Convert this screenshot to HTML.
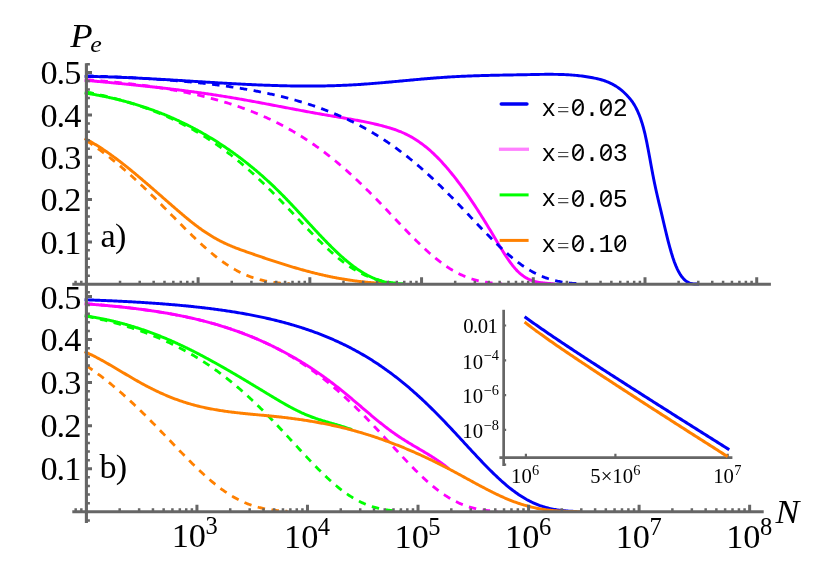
<!DOCTYPE html>
<html><head><meta charset="utf-8"><title>Pe vs N</title>
<style>html,body{margin:0;padding:0;background:#fff;}body{width:830px;height:586px;overflow:hidden;font-family:"Liberation Serif",serif;}svg{display:block;will-change:transform;}</style>
</head><body>
<svg width="830" height="586" viewBox="0 0 830 586">
<rect width="830" height="586" fill="#ffffff"/>
<g fill="none" stroke-linejoin="round">
<path d="M84.60,138.41 L85.39,138.82 L86.17,139.23 L86.96,139.65 L87.74,140.08 L88.53,140.51 L89.31,140.94 L90.10,141.38 L90.88,141.83 L91.67,142.28 L92.45,142.74 L93.24,143.20 L94.03,143.66 L94.81,144.14 L95.60,144.61 L96.38,145.09 L97.17,145.58 L97.95,146.07 L98.74,146.57 L99.52,147.07 L100.31,147.57 L101.09,148.08 L101.88,148.60 L102.67,149.11 L103.45,149.64 L104.24,150.16 L105.02,150.70 L105.81,151.23 L106.59,151.77 L107.38,152.31 L108.16,152.86 L108.95,153.41 L109.73,153.97 L110.52,154.53 L111.31,155.09 L112.09,155.66 L112.88,156.23 L113.66,156.81 L114.45,157.38 L115.23,157.97 L116.02,158.55 L116.80,159.14 L117.59,159.73 L118.37,160.33 L119.16,160.92 L119.95,161.53 L120.73,162.13 L121.52,162.74 L122.30,163.35 L123.09,163.96 L123.87,164.58 L124.66,165.20 L125.44,165.82 L126.23,166.44 L127.02,167.07 L127.80,167.70 L128.59,168.33 L129.37,168.97 L130.16,169.61 L130.94,170.25 L131.73,170.89 L132.51,171.53 L133.30,172.18 L134.08,172.83 L134.87,173.48 L135.66,174.13 L136.44,174.79 L137.23,175.44 L138.01,176.10 L138.80,176.76 L139.58,177.42 L140.37,178.09 L141.15,178.75 L141.94,179.42 L142.72,180.09 L143.51,180.76 L144.30,181.43 L145.08,182.10 L145.87,182.78 L146.65,183.45 L147.44,184.13 L148.22,184.80 L149.01,185.48 L149.79,186.16 L150.58,186.84 L151.36,187.52 L152.15,188.20 L152.94,188.89 L153.72,189.57 L154.51,190.25 L155.29,190.94 L156.08,191.62 L156.86,192.31 L157.65,193.00 L158.43,193.68 L159.22,194.37 L160.00,195.06 L160.79,195.74 L161.58,196.43 L162.36,197.12 L163.15,197.80 L163.93,198.49 L164.72,199.18 L165.50,199.86 L166.29,200.55 L167.07,201.24 L167.86,201.92 L168.64,202.61 L169.43,203.29 L170.22,203.98 L171.00,204.66 L171.79,205.35 L172.57,206.03 L173.36,206.71 L174.14,207.39 L174.93,208.07 L175.71,208.75 L176.50,209.43 L177.28,210.11 L178.07,210.78 L178.86,211.46 L179.64,212.13 L180.43,212.80 L181.21,213.47 L182.00,214.14 L182.78,214.81 L183.57,215.47 L184.35,216.13 L185.14,216.79 L185.92,217.44 L186.71,218.09 L187.50,218.74 L188.28,219.38 L189.07,220.02 L189.85,220.66 L190.64,221.29 L191.42,221.92 L192.21,222.55 L192.99,223.17 L193.78,223.78 L194.56,224.39 L195.35,225.00 L196.14,225.59 L196.92,226.19 L197.71,226.78 L198.49,227.36 L199.28,227.94 L200.06,228.51 L200.85,229.07 L201.63,229.63 L202.42,230.18 L203.21,230.72 L203.99,231.26 L204.78,231.79 L205.56,232.32 L206.35,232.84 L207.13,233.35 L207.92,233.86 L208.70,234.36 L209.49,234.85 L210.27,235.34 L211.06,235.82 L211.85,236.29 L212.63,236.76 L213.42,237.22 L214.20,237.68 L214.99,238.13 L215.77,238.57 L216.56,239.01 L217.34,239.44 L218.13,239.87 L218.91,240.29 L219.70,240.70 L220.49,241.11 L221.27,241.51 L222.06,241.90 L222.84,242.29 L223.63,242.67 L224.41,243.05 L225.20,243.42 L225.98,243.78 L226.77,244.14 L227.55,244.49 L228.34,244.84 L229.13,245.18 L229.91,245.52 L230.70,245.85 L231.48,246.18 L232.27,246.50 L233.05,246.82 L233.84,247.14 L234.62,247.45 L235.41,247.76 L236.19,248.06 L236.98,248.36 L237.77,248.66 L238.55,248.95 L239.34,249.25 L240.12,249.54 L240.91,249.82 L241.69,250.11 L242.48,250.39 L243.26,250.67 L244.05,250.95 L244.83,251.23 L245.62,251.51 L246.41,251.79 L247.19,252.06 L247.98,252.34 L248.76,252.61 L249.55,252.88 L250.33,253.16 L251.12,253.43 L251.90,253.70 L252.69,253.98 L253.47,254.25 L254.26,254.52 L255.05,254.79 L255.83,255.06 L256.62,255.33 L257.40,255.60 L258.19,255.87 L258.97,256.14 L259.76,256.41 L260.54,256.68 L261.33,256.95 L262.11,257.22 L262.90,257.48 L263.69,257.75 L264.47,258.01 L265.26,258.28 L266.04,258.54 L266.83,258.81 L267.61,259.07 L268.40,259.33 L269.18,259.60 L269.97,259.86 L270.75,260.12 L271.54,260.38 L272.33,260.64 L273.11,260.89 L273.90,261.15 L274.68,261.41 L275.47,261.66 L276.25,261.92 L277.04,262.17 L277.82,262.43 L278.61,262.68 L279.39,262.93 L280.18,263.18 L280.97,263.43 L281.75,263.68 L282.54,263.93 L283.32,264.18 L284.11,264.42 L284.89,264.67 L285.68,264.91 L286.46,265.15 L287.25,265.40 L288.04,265.64 L288.82,265.88 L289.61,266.12 L290.39,266.35 L291.18,266.59 L291.96,266.83 L292.75,267.06 L293.53,267.29 L294.32,267.53 L295.10,267.76 L295.89,267.99 L296.68,268.22 L297.46,268.44 L298.25,268.67 L299.03,268.90 L299.82,269.12 L300.60,269.34 L301.39,269.56 L302.17,269.78 L302.96,270.00 L303.74,270.22 L304.53,270.43 L305.32,270.65 L306.10,270.86 L306.89,271.07 L307.67,271.28 L308.46,271.49 L309.24,271.70 L310.03,271.91 L310.81,272.11 L311.60,272.31 L312.38,272.52 L313.17,272.72 L313.96,272.91 L314.74,273.11 L315.53,273.31 L316.31,273.50 L317.10,273.69 L317.88,273.88 L318.67,274.07 L319.45,274.26 L320.24,274.44 L321.02,274.63 L321.81,274.81 L322.60,274.99 L323.38,275.17 L324.17,275.35 L324.95,275.52 L325.74,275.70 L326.52,275.87 L327.31,276.04 L328.09,276.21 L328.88,276.37 L329.66,276.54 L330.45,276.70 L331.24,276.86 L332.02,277.02 L332.81,277.18 L333.59,277.33 L334.38,277.49 L335.16,277.64 L335.95,277.79 L336.73,277.94 L337.52,278.08 L338.30,278.23 L339.09,278.37 L339.88,278.51 L340.66,278.65 L341.45,278.79 L342.23,278.92 L343.02,279.06 L343.80,279.19 L344.59,279.32 L345.37,279.44 L346.16,279.57 L346.94,279.69 L347.73,279.82 L348.52,279.94 L349.30,280.06 L350.09,280.17 L350.87,280.29 L351.66,280.40 L352.44,280.51 L353.23,280.62 L354.01,280.73 L354.80,280.84 L355.58,280.94 L356.37,281.04 L357.16,281.14 L357.94,281.24 L358.73,281.34 L359.51,281.43 L360.30,281.53 L361.08,281.62 L361.87,281.71 L362.65,281.80 L363.44,281.88 L364.23,281.96 L365.01,282.05 L365.80,282.13 L366.58,282.21 L367.37,282.28 L368.15,282.36 L368.94,282.43 L369.72,282.50 L370.51,282.57 L371.29,282.64 L372.08,282.70 L372.87,282.77 L373.65,282.83 L374.44,282.89 L375.22,282.95 L376.01,283.00 L376.79,283.06 L377.58,283.11 L378.36,283.16 L379.15,283.21 L379.93,283.26 L380.72,283.30 L381.51,283.34 L382.29,283.39 L383.08,283.43 L383.86,283.46 L384.65,283.50 L385.43,283.53 L386.22,283.57 L387.00,283.60 L387.79,283.62 L388.57,283.65 L389.36,283.68 L390.15,283.70 L390.93,283.72 L391.72,283.74 L392.50,283.76 L393.29,283.77 L394.07,283.79 L394.86,283.80 L395.64,283.81 L396.43,283.82 L397.21,283.82 L398.00,283.83" stroke="#ff8000" stroke-width="2.95"/>
<path d="M84.60,92.91 L85.40,93.03 L86.19,93.16 L86.99,93.29 L87.78,93.41 L88.58,93.55 L89.37,93.68 L90.17,93.81 L90.96,93.95 L91.76,94.08 L92.55,94.22 L93.35,94.36 L94.15,94.51 L94.94,94.65 L95.74,94.79 L96.53,94.94 L97.33,95.09 L98.12,95.24 L98.92,95.39 L99.71,95.55 L100.51,95.70 L101.31,95.86 L102.10,96.02 L102.90,96.18 L103.69,96.34 L104.49,96.51 L105.28,96.67 L106.08,96.84 L106.87,97.01 L107.67,97.18 L108.46,97.35 L109.26,97.53 L110.06,97.71 L110.85,97.88 L111.65,98.06 L112.44,98.25 L113.24,98.43 L114.03,98.62 L114.83,98.80 L115.62,98.99 L116.42,99.19 L117.22,99.38 L118.01,99.57 L118.81,99.77 L119.60,99.97 L120.40,100.17 L121.19,100.38 L121.99,100.58 L122.78,100.79 L123.58,101.00 L124.37,101.21 L125.17,101.42 L125.97,101.64 L126.76,101.85 L127.56,102.07 L128.35,102.29 L129.15,102.52 L129.94,102.74 L130.74,102.97 L131.53,103.20 L132.33,103.43 L133.12,103.66 L133.92,103.90 L134.72,104.14 L135.51,104.38 L136.31,104.62 L137.10,104.86 L137.90,105.11 L138.69,105.36 L139.49,105.61 L140.28,105.86 L141.08,106.11 L141.88,106.37 L142.67,106.63 L143.47,106.89 L144.26,107.16 L145.06,107.42 L145.85,107.69 L146.65,107.96 L147.44,108.23 L148.24,108.51 L149.03,108.78 L149.83,109.06 L150.63,109.35 L151.42,109.63 L152.22,109.92 L153.01,110.20 L153.81,110.49 L154.60,110.79 L155.40,111.08 L156.19,111.38 L156.99,111.68 L157.78,111.98 L158.58,112.29 L159.38,112.60 L160.17,112.91 L160.97,113.22 L161.76,113.53 L162.56,113.85 L163.35,114.17 L164.15,114.49 L164.94,114.82 L165.74,115.14 L166.54,115.47 L167.33,115.80 L168.13,116.14 L168.92,116.47 L169.72,116.81 L170.51,117.16 L171.31,117.50 L172.10,117.85 L172.90,118.20 L173.69,118.55 L174.49,118.90 L175.29,119.26 L176.08,119.62 L176.88,119.98 L177.67,120.35 L178.47,120.71 L179.26,121.08 L180.06,121.46 L180.85,121.83 L181.65,122.21 L182.45,122.59 L183.24,122.97 L184.04,123.36 L184.83,123.75 L185.63,124.14 L186.42,124.53 L187.22,124.93 L188.01,125.33 L188.81,125.73 L189.60,126.13 L190.40,126.54 L191.20,126.95 L191.99,127.37 L192.79,127.78 L193.58,128.20 L194.38,128.62 L195.17,129.05 L195.97,129.47 L196.76,129.90 L197.56,130.33 L198.35,130.77 L199.15,131.21 L199.95,131.65 L200.74,132.09 L201.54,132.54 L202.33,132.99 L203.13,133.44 L203.92,133.90 L204.72,134.36 L205.51,134.82 L206.31,135.28 L207.11,135.75 L207.90,136.22 L208.70,136.69 L209.49,137.17 L210.29,137.65 L211.08,138.13 L211.88,138.61 L212.67,139.10 L213.47,139.59 L214.26,140.09 L215.06,140.58 L215.86,141.08 L216.65,141.59 L217.45,142.09 L218.24,142.60 L219.04,143.12 L219.83,143.63 L220.63,144.15 L221.42,144.67 L222.22,145.20 L223.02,145.72 L223.81,146.25 L224.61,146.79 L225.40,147.33 L226.20,147.87 L226.99,148.41 L227.79,148.96 L228.58,149.51 L229.38,150.06 L230.17,150.62 L230.97,151.17 L231.77,151.74 L232.56,152.30 L233.36,152.87 L234.15,153.45 L234.95,154.02 L235.74,154.60 L236.54,155.18 L237.33,155.77 L238.13,156.36 L238.92,156.95 L239.72,157.55 L240.52,158.15 L241.31,158.75 L242.11,159.36 L242.90,159.97 L243.70,160.58 L244.49,161.20 L245.29,161.82 L246.08,162.45 L246.88,163.07 L247.68,163.71 L248.47,164.34 L249.27,164.98 L250.06,165.62 L250.86,166.27 L251.65,166.92 L252.45,167.57 L253.24,168.23 L254.04,168.89 L254.83,169.56 L255.63,170.22 L256.43,170.90 L257.22,171.57 L258.02,172.25 L258.81,172.93 L259.61,173.62 L260.40,174.31 L261.20,175.01 L261.99,175.71 L262.79,176.41 L263.58,177.12 L264.38,177.83 L265.18,178.54 L265.97,179.26 L266.77,179.98 L267.56,180.71 L268.36,181.44 L269.15,182.17 L269.95,182.91 L270.74,183.66 L271.54,184.40 L272.34,185.15 L273.13,185.91 L273.93,186.67 L274.72,187.43 L275.52,188.20 L276.31,188.97 L277.11,189.74 L277.90,190.52 L278.70,191.31 L279.49,192.10 L280.29,192.89 L281.09,193.69 L281.88,194.49 L282.68,195.29 L283.47,196.10 L284.27,196.91 L285.06,197.73 L285.86,198.55 L286.65,199.37 L287.45,200.19 L288.25,201.02 L289.04,201.86 L289.84,202.69 L290.63,203.53 L291.43,204.37 L292.22,205.21 L293.02,206.06 L293.81,206.90 L294.61,207.75 L295.40,208.60 L296.20,209.46 L297.00,210.31 L297.79,211.17 L298.59,212.02 L299.38,212.88 L300.18,213.74 L300.97,214.61 L301.77,215.47 L302.56,216.33 L303.36,217.20 L304.15,218.06 L304.95,218.93 L305.75,219.79 L306.54,220.66 L307.34,221.52 L308.13,222.39 L308.93,223.25 L309.72,224.12 L310.52,224.98 L311.31,225.85 L312.11,226.71 L312.91,227.57 L313.70,228.43 L314.50,229.29 L315.29,230.15 L316.09,231.00 L316.88,231.86 L317.68,232.71 L318.47,233.56 L319.27,234.40 L320.06,235.25 L320.86,236.09 L321.66,236.93 L322.45,237.76 L323.25,238.60 L324.04,239.43 L324.84,240.25 L325.63,241.07 L326.43,241.89 L327.22,242.71 L328.02,243.52 L328.82,244.32 L329.61,245.13 L330.41,245.92 L331.20,246.72 L332.00,247.50 L332.79,248.29 L333.59,249.06 L334.38,249.83 L335.18,250.60 L335.97,251.36 L336.77,252.12 L337.57,252.87 L338.36,253.61 L339.16,254.34 L339.95,255.07 L340.75,255.80 L341.54,256.51 L342.34,257.22 L343.13,257.93 L343.93,258.62 L344.72,259.31 L345.52,259.99 L346.32,260.66 L347.11,261.32 L347.91,261.98 L348.70,262.63 L349.50,263.27 L350.29,263.90 L351.09,264.52 L351.88,265.14 L352.68,265.74 L353.48,266.34 L354.27,266.92 L355.07,267.50 L355.86,268.07 L356.66,268.63 L357.45,269.17 L358.25,269.71 L359.04,270.24 L359.84,270.76 L360.63,271.27 L361.43,271.78 L362.23,272.27 L363.02,272.75 L363.82,273.22 L364.61,273.68 L365.41,274.13 L366.20,274.57 L367.00,275.01 L367.79,275.43 L368.59,275.84 L369.38,276.24 L370.18,276.63 L370.98,277.01 L371.77,277.38 L372.57,277.74 L373.36,278.09 L374.16,278.43 L374.95,278.76 L375.75,279.07 L376.54,279.38 L377.34,279.68 L378.14,279.96 L378.93,280.24 L379.73,280.50 L380.52,280.76 L381.32,281.00 L382.11,281.23 L382.91,281.46 L383.70,281.67 L384.50,281.87 L385.29,282.06 L386.09,282.24 L386.89,282.41 L387.68,282.57 L388.48,282.72 L389.27,282.86 L390.07,282.98 L390.86,283.10 L391.66,283.20 L392.45,283.30 L393.25,283.38 L394.05,283.46 L394.84,283.52 L395.64,283.57 L396.43,283.61 L397.23,283.64 L398.02,283.67 L398.82,283.67 L399.61,283.67 L400.41,283.66 L401.20,283.64 L402.00,283.60" stroke="#00ff00" stroke-width="2.95"/>
<path d="M84.60,80.23 L85.78,80.34 L86.96,80.44 L88.14,80.55 L89.32,80.66 L90.49,80.76 L91.67,80.87 L92.85,80.98 L94.03,81.09 L95.21,81.20 L96.39,81.30 L97.57,81.41 L98.75,81.52 L99.93,81.63 L101.11,81.74 L102.28,81.85 L103.46,81.96 L104.64,82.07 L105.82,82.18 L107.00,82.29 L108.18,82.40 L109.36,82.51 L110.54,82.62 L111.72,82.73 L112.89,82.85 L114.07,82.96 L115.25,83.07 L116.43,83.19 L117.61,83.30 L118.79,83.41 L119.97,83.53 L121.15,83.64 L122.33,83.76 L123.51,83.87 L124.68,83.99 L125.86,84.11 L127.04,84.22 L128.22,84.34 L129.40,84.46 L130.58,84.58 L131.76,84.70 L132.94,84.82 L134.12,84.94 L135.29,85.06 L136.47,85.18 L137.65,85.30 L138.83,85.42 L140.01,85.54 L141.19,85.67 L142.37,85.79 L143.55,85.92 L144.73,86.04 L145.91,86.17 L147.08,86.29 L148.26,86.42 L149.44,86.55 L150.62,86.68 L151.80,86.81 L152.98,86.94 L154.16,87.07 L155.34,87.20 L156.52,87.33 L157.69,87.46 L158.87,87.59 L160.05,87.73 L161.23,87.86 L162.41,88.00 L163.59,88.14 L164.77,88.27 L165.95,88.41 L167.13,88.55 L168.31,88.69 L169.48,88.83 L170.66,88.97 L171.84,89.11 L173.02,89.25 L174.20,89.40 L175.38,89.54 L176.56,89.69 L177.74,89.83 L178.92,89.98 L180.09,90.13 L181.27,90.28 L182.45,90.43 L183.63,90.58 L184.81,90.73 L185.99,90.88 L187.17,91.04 L188.35,91.19 L189.53,91.35 L190.71,91.51 L191.88,91.66 L193.06,91.82 L194.24,91.98 L195.42,92.14 L196.60,92.30 L197.78,92.47 L198.96,92.63 L200.14,92.80 L201.32,92.96 L202.49,93.13 L203.67,93.30 L204.85,93.47 L206.03,93.64 L207.21,93.81 L208.39,93.98 L209.57,94.16 L210.75,94.33 L211.93,94.51 L213.11,94.69 L214.28,94.86 L215.46,95.04 L216.64,95.23 L217.82,95.41 L219.00,95.59 L220.18,95.78 L221.36,95.96 L222.54,96.15 L223.72,96.34 L224.89,96.53 L226.07,96.72 L227.25,96.91 L228.43,97.11 L229.61,97.30 L230.79,97.50 L231.97,97.70 L233.15,97.89 L234.33,98.09 L235.51,98.30 L236.68,98.50 L237.86,98.70 L239.04,98.91 L240.22,99.11 L241.40,99.32 L242.58,99.53 L243.76,99.74 L244.94,99.95 L246.12,100.16 L247.29,100.37 L248.47,100.58 L249.65,100.80 L250.83,101.01 L252.01,101.23 L253.19,101.44 L254.37,101.66 L255.55,101.88 L256.73,102.10 L257.91,102.32 L259.08,102.54 L260.26,102.76 L261.44,102.98 L262.62,103.20 L263.80,103.42 L264.98,103.64 L266.16,103.86 L267.34,104.09 L268.52,104.31 L269.69,104.53 L270.87,104.76 L272.05,104.98 L273.23,105.21 L274.41,105.43 L275.59,105.66 L276.77,105.88 L277.95,106.11 L279.13,106.33 L280.31,106.56 L281.48,106.78 L282.66,107.01 L283.84,107.23 L285.02,107.46 L286.20,107.68 L287.38,107.91 L288.56,108.13 L289.74,108.36 L290.92,108.58 L292.09,108.80 L293.27,109.03 L294.45,109.25 L295.63,109.47 L296.81,109.70 L297.99,109.92 L299.17,110.14 L300.35,110.36 L301.53,110.58 L302.71,110.80 L303.88,111.02 L305.06,111.24 L306.24,111.46 L307.42,111.68 L308.60,111.90 L309.78,112.11 L310.96,112.33 L312.14,112.54 L313.32,112.76 L314.49,112.97 L315.67,113.19 L316.85,113.40 L318.03,113.61 L319.21,113.82 L320.39,114.03 L321.57,114.23 L322.75,114.44 L323.93,114.65 L325.11,114.85 L326.28,115.05 L327.46,115.26 L328.64,115.46 L329.82,115.66 L331.00,115.86 L332.18,116.05 L333.36,116.25 L334.54,116.45 L335.72,116.64 L336.89,116.84 L338.07,117.04 L339.25,117.23 L340.43,117.43 L341.61,117.63 L342.79,117.82 L343.97,118.02 L345.15,118.22 L346.33,118.42 L347.51,118.62 L348.68,118.83 L349.86,119.03 L351.04,119.24 L352.22,119.44 L353.40,119.65 L354.58,119.86 L355.76,120.08 L356.94,120.30 L358.12,120.51 L359.29,120.74 L360.47,120.96 L361.65,121.19 L362.83,121.42 L364.01,121.66 L365.19,121.89 L366.37,122.14 L367.55,122.38 L368.73,122.63 L369.91,122.88 L371.08,123.14 L372.26,123.41 L373.44,123.67 L374.62,123.95 L375.80,124.22 L376.98,124.51 L378.16,124.79 L379.34,125.09 L380.52,125.39 L381.69,125.69 L382.87,126.00 L384.05,126.32 L385.23,126.64 L386.41,126.97 L387.59,127.31 L388.77,127.65 L389.95,128.00 L391.13,128.36 L392.31,128.74 L393.48,129.12 L394.66,129.52 L395.84,129.93 L397.02,130.36 L398.20,130.80 L399.38,131.26 L400.56,131.74 L401.74,132.24 L402.92,132.75 L404.09,133.28 L405.27,133.84 L406.45,134.41 L407.63,135.01 L408.81,135.62 L409.99,136.25 L411.17,136.91 L412.35,137.59 L413.53,138.29 L414.71,139.01 L415.88,139.75 L417.06,140.51 L418.24,141.30 L419.42,142.11 L420.60,142.94 L421.78,143.80 L422.96,144.68 L424.14,145.58 L425.32,146.51 L426.49,147.46 L427.67,148.44 L428.85,149.44 L430.03,150.47 L431.21,151.52 L432.39,152.60 L433.57,153.70 L434.75,154.83 L435.93,155.98 L437.11,157.16 L438.28,158.35 L439.46,159.58 L440.64,160.82 L441.82,162.09 L443.00,163.38 L444.18,164.69 L445.36,166.02 L446.54,167.38 L447.72,168.76 L448.89,170.15 L450.07,171.57 L451.25,173.01 L452.43,174.47 L453.61,175.95 L454.79,177.45 L455.97,178.97 L457.15,180.50 L458.33,182.06 L459.51,183.63 L460.68,185.22 L461.86,186.83 L463.04,188.46 L464.22,190.11 L465.40,191.77 L466.58,193.45 L467.76,195.14 L468.94,196.86 L470.12,198.58 L471.29,200.33 L472.47,202.08 L473.65,203.86 L474.83,205.65 L476.01,207.45 L477.19,209.26 L478.37,211.10 L479.55,212.94 L480.73,214.80 L481.91,216.67 L483.08,218.55 L484.26,220.45 L485.44,222.36 L486.62,224.28 L487.80,226.21 L488.98,228.15 L490.16,230.10 L491.34,232.07 L492.52,234.04 L493.69,236.03 L494.87,238.02 L496.05,240.01 L497.23,242.00 L498.41,243.98 L499.59,245.95 L500.77,247.90 L501.95,249.83 L503.13,251.73 L504.31,253.60 L505.48,255.44 L506.66,257.23 L507.84,258.98 L509.02,260.69 L510.20,262.34 L511.38,263.93 L512.56,265.46 L513.74,266.92 L514.92,268.31 L516.09,269.62 L517.27,270.86 L518.45,272.01 L519.63,273.09 L520.81,274.10 L521.99,275.03 L523.17,275.90 L524.35,276.71 L525.53,277.45 L526.71,278.13 L527.88,278.75 L529.06,279.32 L530.24,279.84 L531.42,280.31 L532.60,280.73 L533.78,281.11 L534.96,281.45 L536.14,281.75 L537.32,282.02 L538.49,282.26 L539.67,282.47 L540.85,282.66 L542.03,282.82 L543.21,282.96 L544.39,283.09 L545.57,283.20 L546.75,283.31 L547.93,283.41 L549.11,283.50 L550.28,283.59 L551.46,283.68 L552.64,283.78 L553.82,283.89 L555.00,284.00" stroke="#ff00ff" stroke-width="2.95"/>
<path d="M84.60,76.39 L86.14,76.41 L87.68,76.43 L89.22,76.45 L90.76,76.47 L92.30,76.50 L93.84,76.53 L95.38,76.56 L96.92,76.59 L98.46,76.63 L100.00,76.66 L101.54,76.70 L103.08,76.74 L104.62,76.78 L106.16,76.83 L107.70,76.87 L109.24,76.92 L110.78,76.97 L112.32,77.02 L113.86,77.07 L115.40,77.13 L116.94,77.18 L118.48,77.24 L120.02,77.30 L121.56,77.36 L123.10,77.43 L124.64,77.49 L126.18,77.56 L127.72,77.62 L129.26,77.69 L130.80,77.76 L132.34,77.83 L133.88,77.90 L135.42,77.98 L136.95,78.05 L138.49,78.13 L140.03,78.20 L141.57,78.28 L143.11,78.36 L144.65,78.44 L146.19,78.52 L147.73,78.60 L149.27,78.69 L150.81,78.77 L152.35,78.86 L153.89,78.94 L155.43,79.03 L156.97,79.12 L158.51,79.20 L160.05,79.29 L161.59,79.38 L163.13,79.47 L164.67,79.56 L166.21,79.65 L167.75,79.75 L169.29,79.84 L170.83,79.93 L172.37,80.02 L173.91,80.12 L175.45,80.21 L176.99,80.31 L178.53,80.40 L180.07,80.50 L181.61,80.59 L183.15,80.69 L184.69,80.78 L186.23,80.88 L187.77,80.97 L189.31,81.07 L190.85,81.17 L192.39,81.26 L193.93,81.36 L195.47,81.45 L197.01,81.55 L198.55,81.65 L200.09,81.74 L201.63,81.84 L203.17,81.93 L204.71,82.03 L206.25,82.12 L207.79,82.22 L209.33,82.31 L210.87,82.40 L212.41,82.50 L213.95,82.59 L215.49,82.68 L217.03,82.77 L218.57,82.86 L220.11,82.96 L221.65,83.05 L223.19,83.13 L224.73,83.22 L226.27,83.31 L227.81,83.40 L229.35,83.48 L230.89,83.57 L232.43,83.65 L233.97,83.74 L235.51,83.82 L237.05,83.90 L238.58,83.98 L240.12,84.06 L241.66,84.14 L243.20,84.22 L244.74,84.30 L246.28,84.37 L247.82,84.45 L249.36,84.52 L250.90,84.59 L252.44,84.66 L253.98,84.73 L255.52,84.80 L257.06,84.87 L258.60,84.93 L260.14,84.99 L261.68,85.06 L263.22,85.12 L264.76,85.18 L266.30,85.23 L267.84,85.29 L269.38,85.34 L270.92,85.39 L272.46,85.45 L274.00,85.49 L275.54,85.54 L277.08,85.59 L278.62,85.63 L280.16,85.67 L281.70,85.71 L283.24,85.75 L284.78,85.79 L286.32,85.82 L287.86,85.85 L289.40,85.88 L290.94,85.91 L292.48,85.93 L294.02,85.96 L295.56,85.98 L297.10,86.00 L298.64,86.01 L300.18,86.03 L301.72,86.04 L303.26,86.05 L304.80,86.05 L306.34,86.06 L307.88,86.06 L309.42,86.06 L310.96,86.06 L312.50,86.05 L314.04,86.04 L315.58,86.03 L317.12,86.02 L318.66,86.00 L320.20,85.98 L321.74,85.96 L323.28,85.93 L324.82,85.91 L326.36,85.88 L327.90,85.84 L329.44,85.81 L330.98,85.77 L332.52,85.72 L334.06,85.68 L335.60,85.63 L337.14,85.58 L338.68,85.52 L340.22,85.47 L341.75,85.40 L343.29,85.34 L344.83,85.27 L346.37,85.20 L347.91,85.13 L349.45,85.05 L350.99,84.97 L352.53,84.88 L354.07,84.79 L355.61,84.70 L357.15,84.61 L358.69,84.51 L360.23,84.41 L361.77,84.31 L363.31,84.20 L364.85,84.09 L366.39,83.98 L367.93,83.86 L369.47,83.75 L371.01,83.63 L372.55,83.50 L374.09,83.38 L375.63,83.25 L377.17,83.13 L378.71,83.00 L380.25,82.87 L381.79,82.73 L383.33,82.60 L384.87,82.47 L386.41,82.33 L387.95,82.19 L389.49,82.05 L391.03,81.91 L392.57,81.77 L394.11,81.63 L395.65,81.49 L397.19,81.35 L398.73,81.21 L400.27,81.06 L401.81,80.92 L403.35,80.78 L404.89,80.63 L406.43,80.49 L407.97,80.35 L409.51,80.21 L411.05,80.06 L412.59,79.92 L414.13,79.78 L415.67,79.64 L417.21,79.50 L418.75,79.37 L420.29,79.23 L421.83,79.09 L423.37,78.96 L424.91,78.83 L426.45,78.70 L427.99,78.57 L429.53,78.44 L431.07,78.31 L432.61,78.19 L434.15,78.07 L435.69,77.95 L437.23,77.83 L438.77,77.71 L440.31,77.60 L441.85,77.49 L443.38,77.38 L444.92,77.28 L446.46,77.18 L448.00,77.08 L449.54,76.98 L451.08,76.89 L452.62,76.80 L454.16,76.71 L455.70,76.63 L457.24,76.55 L458.78,76.47 L460.32,76.40 L461.86,76.32 L463.40,76.25 L464.94,76.19 L466.48,76.12 L468.02,76.06 L469.56,76.00 L471.10,75.94 L472.64,75.88 L474.18,75.83 L475.72,75.78 L477.26,75.73 L478.80,75.68 L480.34,75.63 L481.88,75.58 L483.42,75.54 L484.96,75.50 L486.50,75.46 L488.04,75.42 L489.58,75.38 L491.12,75.34 L492.66,75.31 L494.20,75.27 L495.74,75.24 L497.28,75.21 L498.82,75.17 L500.36,75.14 L501.90,75.11 L503.44,75.08 L504.98,75.05 L506.52,75.02 L508.06,75.00 L509.60,74.97 L511.14,74.94 L512.68,74.91 L514.22,74.88 L515.76,74.86 L517.30,74.83 L518.84,74.80 L520.38,74.77 L521.92,74.74 L523.46,74.72 L525.00,74.69 L526.54,74.66 L528.08,74.63 L529.62,74.60 L531.16,74.56 L532.70,74.53 L534.24,74.50 L535.78,74.47 L537.32,74.45 L538.86,74.42 L540.40,74.40 L541.94,74.37 L543.48,74.36 L545.02,74.34 L546.55,74.33 L548.09,74.32 L549.63,74.32 L551.17,74.32 L552.71,74.33 L554.25,74.35 L555.79,74.37 L557.33,74.39 L558.87,74.43 L560.41,74.47 L561.95,74.52 L563.49,74.57 L565.03,74.64 L566.57,74.72 L568.11,74.80 L569.65,74.90 L571.19,75.00 L572.73,75.12 L574.27,75.24 L575.81,75.38 L577.35,75.53 L578.89,75.69 L580.43,75.87 L581.97,76.06 L583.51,76.26 L585.05,76.48 L586.59,76.71 L588.13,76.95 L589.67,77.22 L591.21,77.49 L592.75,77.78 L594.29,78.09 L595.83,78.42 L597.37,78.77 L598.91,79.14 L600.45,79.55 L601.99,79.98 L603.53,80.46 L605.07,80.98 L606.61,81.54 L608.15,82.16 L609.69,82.82 L611.23,83.55 L612.77,84.34 L614.31,85.20 L615.85,86.13 L617.39,87.14 L618.93,88.22 L620.47,89.39 L622.01,90.65 L623.55,92.00 L625.09,93.45 L626.63,94.99 L628.17,96.64 L629.71,98.41 L631.25,100.33 L632.79,102.47 L634.33,104.89 L635.87,107.62 L637.41,110.74 L638.95,114.29 L640.49,118.34 L642.03,122.95 L643.57,128.27 L645.11,134.45 L646.65,141.57 L648.18,149.45 L649.72,157.75 L651.26,166.16 L652.80,174.41 L654.34,182.24 L655.88,189.48 L657.42,196.28 L658.96,202.79 L660.50,209.20 L662.04,215.67 L663.58,222.23 L665.12,228.77 L666.66,235.17 L668.20,241.31 L669.74,247.10 L671.28,252.49 L672.82,257.44 L674.36,261.91 L675.90,265.88 L677.44,269.35 L678.98,272.35 L680.52,274.92 L682.06,277.08 L683.60,278.87 L685.14,280.34 L686.68,281.50 L688.22,282.39 L689.76,283.05 L691.30,283.51 L692.84,283.80 L694.38,283.96 L695.92,284.02 L697.46,284.01 L699.00,283.98" stroke="#0000f5" stroke-width="2.95"/>
<path d="M86.40,140.61 L87.36,141.24 L88.32,141.89 L89.28,142.53 L90.24,143.18 L91.19,143.84 L92.15,144.50 L93.11,145.17 L94.07,145.84 L95.03,146.52 L95.99,147.20 L96.95,147.89 L97.91,148.58 L98.87,149.28 L99.83,149.98 L100.78,150.68 L101.74,151.40 L102.70,152.11 L103.66,152.84 L104.62,153.56 L105.58,154.29 L106.54,155.03 L107.50,155.77 L108.46,156.52 L109.42,157.27 L110.37,158.03 L111.33,158.79 L112.29,159.56 L113.25,160.33 L114.21,161.11 L115.17,161.89 L116.13,162.68 L117.09,163.47 L118.05,164.27 L119.00,165.07 L119.96,165.88 L120.92,166.69 L121.88,167.51 L122.84,168.33 L123.80,169.15 L124.76,169.98 L125.72,170.82 L126.68,171.66 L127.64,172.50 L128.59,173.35 L129.55,174.21 L130.51,175.07 L131.47,175.93 L132.43,176.79 L133.39,177.67 L134.35,178.54 L135.31,179.42 L136.27,180.31 L137.23,181.19 L138.18,182.09 L139.14,182.98 L140.10,183.88 L141.06,184.79 L142.02,185.69 L142.98,186.60 L143.94,187.52 L144.90,188.44 L145.86,189.36 L146.82,190.28 L147.77,191.21 L148.73,192.14 L149.69,193.08 L150.65,194.02 L151.61,194.96 L152.57,195.90 L153.53,196.85 L154.49,197.79 L155.45,198.75 L156.40,199.70 L157.36,200.65 L158.32,201.61 L159.28,202.57 L160.24,203.53 L161.20,204.50 L162.16,205.46 L163.12,206.43 L164.08,207.39 L165.04,208.36 L165.99,209.33 L166.95,210.30 L167.91,211.27 L168.87,212.24 L169.83,213.22 L170.79,214.19 L171.75,215.16 L172.71,216.13 L173.67,217.10 L174.63,218.08 L175.58,219.05 L176.54,220.02 L177.50,220.98 L178.46,221.95 L179.42,222.92 L180.38,223.88 L181.34,224.85 L182.30,225.81 L183.26,226.77 L184.21,227.72 L185.17,228.68 L186.13,229.63 L187.09,230.57 L188.05,231.52 L189.01,232.46 L189.97,233.40 L190.93,234.33 L191.89,235.26 L192.85,236.19 L193.80,237.11 L194.76,238.03 L195.72,238.94 L196.68,239.85 L197.64,240.75 L198.60,241.64 L199.56,242.53 L200.52,243.42 L201.48,244.30 L202.44,245.17 L203.39,246.03 L204.35,246.89 L205.31,247.74 L206.27,248.59 L207.23,249.42 L208.19,250.25 L209.15,251.07 L210.11,251.88 L211.07,252.69 L212.03,253.49 L212.98,254.27 L213.94,255.05 L214.90,255.82 L215.86,256.58 L216.82,257.33 L217.78,258.07 L218.74,258.80 L219.70,259.53 L220.66,260.24 L221.61,260.94 L222.57,261.63 L223.53,262.31 L224.49,262.98 L225.45,263.64 L226.41,264.29 L227.37,264.92 L228.33,265.55 L229.29,266.16 L230.25,266.77 L231.20,267.36 L232.16,267.94 L233.12,268.51 L234.08,269.06 L235.04,269.61 L236.00,270.14 L236.96,270.67 L237.92,271.18 L238.88,271.67 L239.84,272.16 L240.79,272.64 L241.75,273.10 L242.71,273.55 L243.67,273.99 L244.63,274.42 L245.59,274.83 L246.55,275.24 L247.51,275.63 L248.47,276.01 L249.42,276.38 L250.38,276.74 L251.34,277.09 L252.30,277.42 L253.26,277.75 L254.22,278.06 L255.18,278.36 L256.14,278.66 L257.10,278.94 L258.06,279.21 L259.01,279.47 L259.97,279.73 L260.93,279.97 L261.89,280.20 L262.85,280.42 L263.81,280.64 L264.77,280.84 L265.73,281.04 L266.69,281.23 L267.65,281.41 L268.60,281.58 L269.56,281.74 L270.52,281.89 L271.48,282.04 L272.44,282.18 L273.40,282.31 L274.36,282.44 L275.32,282.56 L276.28,282.67 L277.24,282.78 L278.19,282.88 L279.15,282.98 L280.11,283.07 L281.07,283.15 L282.03,283.23 L282.99,283.30 L283.95,283.37 L284.91,283.44 L285.87,283.50 L286.82,283.56 L287.78,283.61 L288.74,283.66 L289.70,283.71" stroke="#ff8000" stroke-width="2.8000000000000003" stroke-dasharray="7.5 6.5"/>
<path d="M86.40,91.96 L87.36,92.15 L88.32,92.34 L89.28,92.54 L90.24,92.73 L91.19,92.93 L92.15,93.13 L93.11,93.34 L94.07,93.54 L95.03,93.75 L95.99,93.96 L96.95,94.17 L97.91,94.38 L98.87,94.60 L99.83,94.81 L100.78,95.03 L101.74,95.25 L102.70,95.48 L103.66,95.70 L104.62,95.93 L105.58,96.16 L106.54,96.39 L107.50,96.63 L108.46,96.87 L109.42,97.11 L110.37,97.35 L111.33,97.59 L112.29,97.84 L113.25,98.09 L114.21,98.34 L115.17,98.59 L116.13,98.85 L117.09,99.11 L118.05,99.37 L119.00,99.63 L119.96,99.90 L120.92,100.16 L121.88,100.44 L122.84,100.71 L123.80,100.99 L124.76,101.27 L125.72,101.55 L126.68,101.83 L127.64,102.12 L128.59,102.41 L129.55,102.70 L130.51,103.00 L131.47,103.30 L132.43,103.60 L133.39,103.90 L134.35,104.21 L135.31,104.52 L136.27,104.83 L137.23,105.15 L138.18,105.47 L139.14,105.79 L140.10,106.12 L141.06,106.44 L142.02,106.78 L142.98,107.11 L143.94,107.45 L144.90,107.79 L145.86,108.13 L146.82,108.48 L147.77,108.83 L148.73,109.19 L149.69,109.54 L150.65,109.90 L151.61,110.27 L152.57,110.64 L153.53,111.01 L154.49,111.38 L155.45,111.76 L156.40,112.14 L157.36,112.53 L158.32,112.92 L159.28,113.31 L160.24,113.71 L161.20,114.11 L162.16,114.51 L163.12,114.92 L164.08,115.33 L165.04,115.74 L165.99,116.16 L166.95,116.59 L167.91,117.01 L168.87,117.44 L169.83,117.88 L170.79,118.32 L171.75,118.76 L172.71,119.20 L173.67,119.66 L174.63,120.11 L175.58,120.57 L176.54,121.03 L177.50,121.50 L178.46,121.97 L179.42,122.45 L180.38,122.93 L181.34,123.41 L182.30,123.90 L183.26,124.39 L184.21,124.89 L185.17,125.39 L186.13,125.90 L187.09,126.41 L188.05,126.93 L189.01,127.45 L189.97,127.97 L190.93,128.50 L191.89,129.04 L192.85,129.57 L193.80,130.12 L194.76,130.67 L195.72,131.22 L196.68,131.78 L197.64,132.34 L198.60,132.91 L199.56,133.48 L200.52,134.06 L201.48,134.64 L202.44,135.23 L203.39,135.82 L204.35,136.42 L205.31,137.02 L206.27,137.63 L207.23,138.24 L208.19,138.86 L209.15,139.48 L210.11,140.11 L211.07,140.74 L212.03,141.38 L212.98,142.02 L213.94,142.67 L214.90,143.32 L215.86,143.98 L216.82,144.65 L217.78,145.32 L218.74,145.99 L219.70,146.67 L220.66,147.36 L221.61,148.05 L222.57,148.75 L223.53,149.45 L224.49,150.16 L225.45,150.87 L226.41,151.59 L227.37,152.31 L228.33,153.04 L229.29,153.77 L230.25,154.51 L231.20,155.26 L232.16,156.01 L233.12,156.77 L234.08,157.53 L235.04,158.30 L236.00,159.07 L236.96,159.85 L237.92,160.63 L238.88,161.42 L239.84,162.21 L240.79,163.01 L241.75,163.82 L242.71,164.63 L243.67,165.45 L244.63,166.27 L245.59,167.09 L246.55,167.93 L247.51,168.76 L248.47,169.61 L249.42,170.46 L250.38,171.31 L251.34,172.17 L252.30,173.03 L253.26,173.90 L254.22,174.77 L255.18,175.65 L256.14,176.54 L257.10,177.42 L258.06,178.32 L259.01,179.22 L259.97,180.12 L260.93,181.03 L261.89,181.94 L262.85,182.86 L263.81,183.78 L264.77,184.70 L265.73,185.63 L266.69,186.57 L267.65,187.51 L268.60,188.45 L269.56,189.40 L270.52,190.35 L271.48,191.31 L272.44,192.26 L273.40,193.23 L274.36,194.19 L275.32,195.16 L276.28,196.14 L277.24,197.11 L278.19,198.09 L279.15,199.07 L280.11,200.06 L281.07,201.05 L282.03,202.04 L282.99,203.03 L283.95,204.03 L284.91,205.03 L285.87,206.03 L286.82,207.03 L287.78,208.03 L288.74,209.04 L289.70,210.04 L290.66,211.05 L291.62,212.06 L292.58,213.07 L293.54,214.08 L294.50,215.09 L295.46,216.10 L296.41,217.12 L297.37,218.13 L298.33,219.14 L299.29,220.15 L300.25,221.16 L301.21,222.17 L302.17,223.18 L303.13,224.19 L304.09,225.19 L305.05,226.20 L306.00,227.20 L306.96,228.20 L307.92,229.20 L308.88,230.19 L309.84,231.19 L310.80,232.18 L311.76,233.16 L312.72,234.14 L313.68,235.12 L314.63,236.10 L315.59,237.07 L316.55,238.03 L317.51,238.99 L318.47,239.95 L319.43,240.90 L320.39,241.84 L321.35,242.78 L322.31,243.71 L323.27,244.63 L324.22,245.55 L325.18,246.46 L326.14,247.37 L327.10,248.26 L328.06,249.15 L329.02,250.03 L329.98,250.91 L330.94,251.77 L331.90,252.62 L332.86,253.47 L333.81,254.31 L334.77,255.13 L335.73,255.95 L336.69,256.76 L337.65,257.56 L338.61,258.34 L339.57,259.12 L340.53,259.88 L341.49,260.64 L342.44,261.38 L343.40,262.11 L344.36,262.83 L345.32,263.53 L346.28,264.23 L347.24,264.91 L348.20,265.58 L349.16,266.24 L350.12,266.89 L351.08,267.52 L352.03,268.14 L352.99,268.74 L353.95,269.34 L354.91,269.92 L355.87,270.48 L356.83,271.04 L357.79,271.58 L358.75,272.10 L359.71,272.62 L360.67,273.12 L361.62,273.60 L362.58,274.08 L363.54,274.54 L364.50,274.98 L365.46,275.41 L366.42,275.83 L367.38,276.24 L368.34,276.63 L369.30,277.01 L370.26,277.38 L371.21,277.73 L372.17,278.08 L373.13,278.41 L374.09,278.72 L375.05,279.03 L376.01,279.32 L376.97,279.60 L377.93,279.87 L378.89,280.13 L379.84,280.37 L380.80,280.61 L381.76,280.84 L382.72,281.05 L383.68,281.25 L384.64,281.45 L385.60,281.63 L386.56,281.81 L387.52,281.98 L388.48,282.13 L389.43,282.28 L390.39,282.42 L391.35,282.55 L392.31,282.68 L393.27,282.80 L394.23,282.91 L395.19,283.01 L396.15,283.11 L397.11,283.20 L398.07,283.28 L399.02,283.36 L399.98,283.43 L400.94,283.50 L401.90,283.56 L402.86,283.62 L403.82,283.68 L404.78,283.73" stroke="#00ff00" stroke-width="2.8000000000000003" stroke-dasharray="7.5 6.5"/>
<path d="M86.40,79.73 L87.36,79.80 L88.32,79.87 L89.28,79.95 L90.24,80.02 L91.19,80.09 L92.15,80.17 L93.11,80.24 L94.07,80.32 L95.03,80.40 L95.99,80.47 L96.95,80.55 L97.91,80.63 L98.87,80.71 L99.83,80.79 L100.78,80.87 L101.74,80.95 L102.70,81.04 L103.66,81.12 L104.62,81.20 L105.58,81.29 L106.54,81.38 L107.50,81.46 L108.46,81.55 L109.42,81.64 L110.37,81.73 L111.33,81.82 L112.29,81.91 L113.25,82.00 L114.21,82.10 L115.17,82.19 L116.13,82.29 L117.09,82.38 L118.05,82.48 L119.00,82.58 L119.96,82.68 L120.92,82.78 L121.88,82.88 L122.84,82.98 L123.80,83.08 L124.76,83.19 L125.72,83.29 L126.68,83.40 L127.64,83.50 L128.59,83.61 L129.55,83.72 L130.51,83.83 L131.47,83.94 L132.43,84.06 L133.39,84.17 L134.35,84.28 L135.31,84.40 L136.27,84.52 L137.23,84.64 L138.18,84.75 L139.14,84.87 L140.10,85.00 L141.06,85.12 L142.02,85.24 L142.98,85.37 L143.94,85.50 L144.90,85.62 L145.86,85.75 L146.82,85.88 L147.77,86.01 L148.73,86.15 L149.69,86.28 L150.65,86.42 L151.61,86.55 L152.57,86.69 L153.53,86.83 L154.49,86.97 L155.45,87.12 L156.40,87.26 L157.36,87.40 L158.32,87.55 L159.28,87.70 L160.24,87.85 L161.20,88.00 L162.16,88.15 L163.12,88.31 L164.08,88.46 L165.04,88.62 L165.99,88.78 L166.95,88.94 L167.91,89.10 L168.87,89.26 L169.83,89.43 L170.79,89.59 L171.75,89.76 L172.71,89.93 L173.67,90.10 L174.63,90.28 L175.58,90.45 L176.54,90.63 L177.50,90.81 L178.46,90.99 L179.42,91.17 L180.38,91.35 L181.34,91.54 L182.30,91.73 L183.26,91.91 L184.21,92.11 L185.17,92.30 L186.13,92.49 L187.09,92.69 L188.05,92.89 L189.01,93.09 L189.97,93.29 L190.93,93.50 L191.89,93.70 L192.85,93.91 L193.80,94.12 L194.76,94.33 L195.72,94.55 L196.68,94.76 L197.64,94.98 L198.60,95.20 L199.56,95.43 L200.52,95.65 L201.48,95.88 L202.44,96.11 L203.39,96.34 L204.35,96.58 L205.31,96.81 L206.27,97.05 L207.23,97.29 L208.19,97.54 L209.15,97.78 L210.11,98.03 L211.07,98.28 L212.03,98.53 L212.98,98.79 L213.94,99.05 L214.90,99.31 L215.86,99.57 L216.82,99.84 L217.78,100.10 L218.74,100.37 L219.70,100.65 L220.66,100.92 L221.61,101.20 L222.57,101.48 L223.53,101.77 L224.49,102.05 L225.45,102.34 L226.41,102.64 L227.37,102.93 L228.33,103.23 L229.29,103.53 L230.25,103.83 L231.20,104.14 L232.16,104.45 L233.12,104.76 L234.08,105.08 L235.04,105.40 L236.00,105.72 L236.96,106.04 L237.92,106.37 L238.88,106.70 L239.84,107.04 L240.79,107.37 L241.75,107.71 L242.71,108.06 L243.67,108.40 L244.63,108.75 L245.59,109.11 L246.55,109.46 L247.51,109.82 L248.47,110.19 L249.42,110.55 L250.38,110.92 L251.34,111.30 L252.30,111.68 L253.26,112.06 L254.22,112.44 L255.18,112.83 L256.14,113.22 L257.10,113.62 L258.06,114.02 L259.01,114.42 L259.97,114.83 L260.93,115.24 L261.89,115.65 L262.85,116.07 L263.81,116.49 L264.77,116.92 L265.73,117.34 L266.69,117.78 L267.65,118.22 L268.60,118.66 L269.56,119.10 L270.52,119.55 L271.48,120.01 L272.44,120.47 L273.40,120.93 L274.36,121.39 L275.32,121.86 L276.28,122.34 L277.24,122.82 L278.19,123.30 L279.15,123.79 L280.11,124.28 L281.07,124.78 L282.03,125.28 L282.99,125.79 L283.95,126.30 L284.91,126.81 L285.87,127.33 L286.82,127.85 L287.78,128.38 L288.74,128.92 L289.70,129.45 L290.66,130.00 L291.62,130.54 L292.58,131.09 L293.54,131.65 L294.50,132.21 L295.46,132.78 L296.41,133.35 L297.37,133.93 L298.33,134.51 L299.29,135.09 L300.25,135.69 L301.21,136.28 L302.17,136.88 L303.13,137.49 L304.09,138.10 L305.05,138.72 L306.00,139.34 L306.96,139.96 L307.92,140.60 L308.88,141.23 L309.84,141.88 L310.80,142.52 L311.76,143.18 L312.72,143.83 L313.68,144.50 L314.63,145.17 L315.59,145.84 L316.55,146.52 L317.51,147.20 L318.47,147.89 L319.43,148.59 L320.39,149.29 L321.35,150.00 L322.31,150.71 L323.27,151.42 L324.22,152.15 L325.18,152.87 L326.14,153.61 L327.10,154.35 L328.06,155.09 L329.02,155.84 L329.98,156.60 L330.94,157.36 L331.90,158.12 L332.86,158.89 L333.81,159.67 L334.77,160.45 L335.73,161.24 L336.69,162.03 L337.65,162.83 L338.61,163.64 L339.57,164.45 L340.53,165.26 L341.49,166.08 L342.44,166.91 L343.40,167.74 L344.36,168.58 L345.32,169.42 L346.28,170.26 L347.24,171.12 L348.20,171.97 L349.16,172.84 L350.12,173.70 L351.08,174.58 L352.03,175.45 L352.99,176.34 L353.95,177.22 L354.91,178.12 L355.87,179.01 L356.83,179.91 L357.79,180.82 L358.75,181.73 L359.71,182.65 L360.67,183.57 L361.62,184.50 L362.58,185.42 L363.54,186.36 L364.50,187.30 L365.46,188.24 L366.42,189.19 L367.38,190.14 L368.34,191.09 L369.30,192.05 L370.26,193.01 L371.21,193.98 L372.17,194.94 L373.13,195.92 L374.09,196.89 L375.05,197.87 L376.01,198.85 L376.97,199.84 L377.93,200.83 L378.89,201.82 L379.84,202.81 L380.80,203.80 L381.76,204.80 L382.72,205.80 L383.68,206.80 L384.64,207.81 L385.60,208.81 L386.56,209.82 L387.52,210.82 L388.48,211.83 L389.43,212.84 L390.39,213.85 L391.35,214.87 L392.31,215.88 L393.27,216.89 L394.23,217.90 L395.19,218.91 L396.15,219.92 L397.11,220.93 L398.07,221.94 L399.02,222.95 L399.98,223.96 L400.94,224.97 L401.90,225.97 L402.86,226.98 L403.82,227.98 L404.78,228.97 L405.74,229.97 L406.70,230.96 L407.65,231.95 L408.61,232.94 L409.57,233.92 L410.53,234.90 L411.49,235.88 L412.45,236.85 L413.41,237.81 L414.37,238.77 L415.33,239.73 L416.29,240.68 L417.24,241.63 L418.20,242.57 L419.16,243.50 L420.12,244.43 L421.08,245.35 L422.04,246.26 L423.00,247.16 L423.96,248.06 L424.92,248.95 L425.88,249.84 L426.83,250.71 L427.79,251.58 L428.75,252.43 L429.71,253.28 L430.67,254.12 L431.63,254.95 L432.59,255.77 L433.55,256.58 L434.51,257.38 L435.47,258.17 L436.42,258.94 L437.38,259.71 L438.34,260.47 L439.30,261.21 L440.26,261.94 L441.22,262.67 L442.18,263.38 L443.14,264.07 L444.10,264.76 L445.05,265.43 L446.01,266.09 L446.97,266.74 L447.93,267.38 L448.89,268.00 L449.85,268.61 L450.81,269.20 L451.77,269.79 L452.73,270.36 L453.69,270.91 L454.64,271.46 L455.60,271.99 L456.56,272.50 L457.52,273.01 L458.48,273.49 L459.44,273.97 L460.40,274.43 L461.36,274.88 L462.32,275.32 L463.28,275.74 L464.23,276.15 L465.19,276.55 L466.15,276.93 L467.11,277.30 L468.07,277.66 L469.03,278.00 L469.99,278.33 L470.95,278.65 L471.91,278.96 L472.86,279.25 L473.82,279.54 L474.78,279.81 L475.74,280.07 L476.70,280.32 L477.66,280.56 L478.62,280.79 L479.58,281.00 L480.54,281.21 L481.50,281.41 L482.45,281.59 L483.41,281.77 L484.37,281.94 L485.33,282.10 L486.29,282.25 L487.25,282.39 L488.21,282.53 L489.17,282.65 L490.13,282.77 L491.09,282.88 L492.04,282.99 L493.00,283.09 L493.96,283.18 L494.92,283.26 L495.88,283.34 L496.84,283.42 L497.80,283.49 L498.76,283.55 L499.72,283.61 L500.68,283.66 L501.63,283.72" stroke="#ff00ff" stroke-width="2.8000000000000003" stroke-dasharray="7.5 6.5"/>
<path d="M86.40,75.82 L87.36,75.85 L88.32,75.88 L89.28,75.92 L90.24,75.95 L91.19,75.98 L92.15,76.01 L93.11,76.05 L94.07,76.08 L95.03,76.12 L95.99,76.15 L96.95,76.19 L97.91,76.22 L98.87,76.26 L99.83,76.30 L100.78,76.33 L101.74,76.37 L102.70,76.41 L103.66,76.44 L104.62,76.48 L105.58,76.52 L106.54,76.56 L107.50,76.60 L108.46,76.64 L109.42,76.68 L110.37,76.72 L111.33,76.76 L112.29,76.80 L113.25,76.84 L114.21,76.89 L115.17,76.93 L116.13,76.97 L117.09,77.02 L118.05,77.06 L119.00,77.10 L119.96,77.15 L120.92,77.19 L121.88,77.24 L122.84,77.28 L123.80,77.33 L124.76,77.38 L125.72,77.43 L126.68,77.47 L127.64,77.52 L128.59,77.57 L129.55,77.62 L130.51,77.67 L131.47,77.72 L132.43,77.77 L133.39,77.82 L134.35,77.87 L135.31,77.93 L136.27,77.98 L137.23,78.03 L138.18,78.09 L139.14,78.14 L140.10,78.20 L141.06,78.25 L142.02,78.31 L142.98,78.36 L143.94,78.42 L144.90,78.48 L145.86,78.54 L146.82,78.60 L147.77,78.66 L148.73,78.72 L149.69,78.78 L150.65,78.84 L151.61,78.90 L152.57,78.96 L153.53,79.03 L154.49,79.09 L155.45,79.15 L156.40,79.22 L157.36,79.29 L158.32,79.35 L159.28,79.42 L160.24,79.49 L161.20,79.56 L162.16,79.62 L163.12,79.69 L164.08,79.76 L165.04,79.84 L165.99,79.91 L166.95,79.98 L167.91,80.05 L168.87,80.13 L169.83,80.20 L170.79,80.28 L171.75,80.35 L172.71,80.43 L173.67,80.51 L174.63,80.59 L175.58,80.67 L176.54,80.75 L177.50,80.83 L178.46,80.91 L179.42,80.99 L180.38,81.07 L181.34,81.16 L182.30,81.24 L183.26,81.33 L184.21,81.42 L185.17,81.50 L186.13,81.59 L187.09,81.68 L188.05,81.77 L189.01,81.86 L189.97,81.95 L190.93,82.05 L191.89,82.14 L192.85,82.23 L193.80,82.33 L194.76,82.43 L195.72,82.52 L196.68,82.62 L197.64,82.72 L198.60,82.82 L199.56,82.92 L200.52,83.03 L201.48,83.13 L202.44,83.23 L203.39,83.34 L204.35,83.45 L205.31,83.55 L206.27,83.66 L207.23,83.77 L208.19,83.88 L209.15,83.99 L210.11,84.11 L211.07,84.22 L212.03,84.34 L212.98,84.45 L213.94,84.57 L214.90,84.69 L215.86,84.81 L216.82,84.93 L217.78,85.05 L218.74,85.18 L219.70,85.30 L220.66,85.43 L221.61,85.55 L222.57,85.68 L223.53,85.81 L224.49,85.94 L225.45,86.07 L226.41,86.21 L227.37,86.34 L228.33,86.48 L229.29,86.62 L230.25,86.76 L231.20,86.90 L232.16,87.04 L233.12,87.18 L234.08,87.32 L235.04,87.47 L236.00,87.62 L236.96,87.77 L237.92,87.92 L238.88,88.07 L239.84,88.22 L240.79,88.38 L241.75,88.53 L242.71,88.69 L243.67,88.85 L244.63,89.01 L245.59,89.17 L246.55,89.34 L247.51,89.50 L248.47,89.67 L249.42,89.84 L250.38,90.01 L251.34,90.18 L252.30,90.36 L253.26,90.53 L254.22,90.71 L255.18,90.89 L256.14,91.07 L257.10,91.25 L258.06,91.44 L259.01,91.62 L259.97,91.81 L260.93,92.00 L261.89,92.19 L262.85,92.39 L263.81,92.58 L264.77,92.78 L265.73,92.98 L266.69,93.18 L267.65,93.38 L268.60,93.59 L269.56,93.80 L270.52,94.01 L271.48,94.22 L272.44,94.43 L273.40,94.65 L274.36,94.86 L275.32,95.08 L276.28,95.31 L277.24,95.53 L278.19,95.76 L279.15,95.98 L280.11,96.22 L281.07,96.45 L282.03,96.68 L282.99,96.92 L283.95,97.16 L284.91,97.40 L285.87,97.65 L286.82,97.89 L287.78,98.14 L288.74,98.40 L289.70,98.65 L290.66,98.91 L291.62,99.17 L292.58,99.43 L293.54,99.69 L294.50,99.96 L295.46,100.23 L296.41,100.50 L297.37,100.77 L298.33,101.05 L299.29,101.33 L300.25,101.61 L301.21,101.90 L302.17,102.19 L303.13,102.48 L304.09,102.77 L305.05,103.07 L306.00,103.37 L306.96,103.67 L307.92,103.97 L308.88,104.28 L309.84,104.59 L310.80,104.91 L311.76,105.22 L312.72,105.54 L313.68,105.87 L314.63,106.19 L315.59,106.52 L316.55,106.85 L317.51,107.19 L318.47,107.53 L319.43,107.87 L320.39,108.21 L321.35,108.56 L322.31,108.91 L323.27,109.27 L324.22,109.63 L325.18,109.99 L326.14,110.35 L327.10,110.72 L328.06,111.09 L329.02,111.47 L329.98,111.85 L330.94,112.23 L331.90,112.62 L332.86,113.01 L333.81,113.40 L334.77,113.80 L335.73,114.20 L336.69,114.60 L337.65,115.01 L338.61,115.42 L339.57,115.84 L340.53,116.26 L341.49,116.68 L342.44,117.11 L343.40,117.54 L344.36,117.98 L345.32,118.42 L346.28,118.86 L347.24,119.31 L348.20,119.76 L349.16,120.21 L350.12,120.67 L351.08,121.14 L352.03,121.61 L352.99,122.08 L353.95,122.56 L354.91,123.04 L355.87,123.52 L356.83,124.01 L357.79,124.51 L358.75,125.01 L359.71,125.51 L360.67,126.02 L361.62,126.53 L362.58,127.05 L363.54,127.57 L364.50,128.09 L365.46,128.62 L366.42,129.16 L367.38,129.70 L368.34,130.24 L369.30,130.79 L370.26,131.35 L371.21,131.91 L372.17,132.47 L373.13,133.04 L374.09,133.61 L375.05,134.19 L376.01,134.77 L376.97,135.36 L377.93,135.96 L378.89,136.55 L379.84,137.16 L380.80,137.77 L381.76,138.38 L382.72,139.00 L383.68,139.62 L384.64,140.25 L385.60,140.88 L386.56,141.52 L387.52,142.17 L388.48,142.82 L389.43,143.47 L390.39,144.13 L391.35,144.80 L392.31,145.47 L393.27,146.15 L394.23,146.83 L395.19,147.52 L396.15,148.21 L397.11,148.91 L398.07,149.61 L399.02,150.32 L399.98,151.03 L400.94,151.75 L401.90,152.48 L402.86,153.21 L403.82,153.94 L404.78,154.68 L405.74,155.43 L406.70,156.18 L407.65,156.94 L408.61,157.70 L409.57,158.47 L410.53,159.25 L411.49,160.03 L412.45,160.81 L413.41,161.60 L414.37,162.40 L415.33,163.20 L416.29,164.00 L417.24,164.82 L418.20,165.63 L419.16,166.46 L420.12,167.28 L421.08,168.12 L422.04,168.96 L423.00,169.80 L423.96,170.65 L424.92,171.50 L425.88,172.36 L426.83,173.23 L427.79,174.10 L428.75,174.97 L429.71,175.85 L430.67,176.74 L431.63,177.63 L432.59,178.52 L433.55,179.42 L434.51,180.33 L435.47,181.24 L436.42,182.15 L437.38,183.07 L438.34,183.99 L439.30,184.92 L440.26,185.85 L441.22,186.78 L442.18,187.72 L443.14,188.67 L444.10,189.62 L445.05,190.57 L446.01,191.52 L446.97,192.48 L447.93,193.45 L448.89,194.41 L449.85,195.39 L450.81,196.36 L451.77,197.34 L452.73,198.32 L453.69,199.30 L454.64,200.29 L455.60,201.27 L456.56,202.27 L457.52,203.26 L458.48,204.26 L459.44,205.25 L460.40,206.25 L461.36,207.26 L462.32,208.26 L463.28,209.27 L464.23,210.27 L465.19,211.28 L466.15,212.29 L467.11,213.30 L468.07,214.31 L469.03,215.32 L469.99,216.34 L470.95,217.35 L471.91,218.36 L472.86,219.37 L473.82,220.38 L474.78,221.39 L475.74,222.40 L476.70,223.41 L477.66,224.42 L478.62,225.42 L479.58,226.43 L480.54,227.43 L481.50,228.43 L482.45,229.43 L483.41,230.42 L484.37,231.41 L485.33,232.40 L486.29,233.39 L487.25,234.37 L488.21,235.35 L489.17,236.32 L490.13,237.29 L491.09,238.25 L492.04,239.21 L493.00,240.16 L493.96,241.11 L494.92,242.05 L495.88,242.99 L496.84,243.92 L497.80,244.84 L498.76,245.76 L499.72,246.67 L500.68,247.57 L501.63,248.47 L502.59,249.36 L503.55,250.23 L504.51,251.10 L505.47,251.97 L506.43,252.82 L507.39,253.66 L508.35,254.50 L509.31,255.32 L510.26,256.14 L511.22,256.94 L512.18,257.74 L513.14,258.52 L514.10,259.29 L515.06,260.06 L516.02,260.81 L516.98,261.55 L517.94,262.27 L518.90,262.99 L519.85,263.69 L520.81,264.39 L521.77,265.07 L522.73,265.73 L523.69,266.39 L524.65,267.03 L525.61,267.66 L526.57,268.28 L527.53,268.88 L528.49,269.47 L529.44,270.05 L530.40,270.61 L531.36,271.16 L532.32,271.70 L533.28,272.22 L534.24,272.73 L535.20,273.23 L536.16,273.71 L537.12,274.18 L538.07,274.64 L539.03,275.08 L539.99,275.51 L540.95,275.93 L541.91,276.33 L542.87,276.72 L543.83,277.10 L544.79,277.46 L545.75,277.81 L546.71,278.15 L547.66,278.48 L548.62,278.79 L549.58,279.09 L550.54,279.38 L551.50,279.66 L552.46,279.93 L553.42,280.18 L554.38,280.43 L555.34,280.66 L556.30,280.89 L557.25,281.10 L558.21,281.30 L559.17,281.49 L560.13,281.67 L561.09,281.85 L562.05,282.01 L563.01,282.17 L563.97,282.31 L564.93,282.45 L565.88,282.58 L566.84,282.71 L567.80,282.82 L568.76,282.93 L569.72,283.03 L570.68,283.13 L571.64,283.22 L572.60,283.30 L573.56,283.38 L574.52,283.45 L575.47,283.52 L576.43,283.58 L577.39,283.64 L578.35,283.69 L579.31,283.74" stroke="#0000f5" stroke-width="2.8000000000000003" stroke-dasharray="7.5 6.5"/>
<path d="M86.40,303.76 L87.35,303.83 L88.30,303.90 L89.25,303.98 L90.20,304.05 L91.14,304.12 L92.09,304.20 L93.04,304.28 L93.99,304.35 L94.94,304.43 L95.89,304.51 L96.84,304.59 L97.79,304.67 L98.73,304.75 L99.68,304.83 L100.63,304.92 L101.58,305.00 L102.53,305.08 L103.48,305.17 L104.43,305.25 L105.38,305.34 L106.33,305.43 L107.27,305.52 L108.22,305.61 L109.17,305.70 L110.12,305.79 L111.07,305.88 L112.02,305.97 L112.97,306.07 L113.92,306.16 L114.87,306.26 L115.81,306.36 L116.76,306.45 L117.71,306.55 L118.66,306.65 L119.61,306.75 L120.56,306.85 L121.51,306.96 L122.46,307.06 L123.40,307.17 L124.35,307.27 L125.30,307.38 L126.25,307.49 L127.20,307.59 L128.15,307.71 L129.10,307.82 L130.05,307.93 L131.00,308.04 L131.94,308.16 L132.89,308.27 L133.84,308.39 L134.79,308.51 L135.74,308.63 L136.69,308.75 L137.64,308.87 L138.59,308.99 L139.54,309.11 L140.48,309.24 L141.43,309.36 L142.38,309.49 L143.33,309.62 L144.28,309.75 L145.23,309.88 L146.18,310.02 L147.13,310.15 L148.07,310.28 L149.02,310.42 L149.97,310.56 L150.92,310.70 L151.87,310.84 L152.82,310.98 L153.77,311.12 L154.72,311.27 L155.67,311.42 L156.61,311.56 L157.56,311.71 L158.51,311.86 L159.46,312.02 L160.41,312.17 L161.36,312.32 L162.31,312.48 L163.26,312.64 L164.20,312.80 L165.15,312.96 L166.10,313.12 L167.05,313.29 L168.00,313.45 L168.95,313.62 L169.90,313.79 L170.85,313.96 L171.80,314.14 L172.74,314.31 L173.69,314.49 L174.64,314.66 L175.59,314.84 L176.54,315.03 L177.49,315.21 L178.44,315.39 L179.39,315.58 L180.34,315.77 L181.28,315.96 L182.23,316.15 L183.18,316.35 L184.13,316.54 L185.08,316.74 L186.03,316.94 L186.98,317.14 L187.93,317.35 L188.87,317.55 L189.82,317.76 L190.77,317.97 L191.72,318.18 L192.67,318.40 L193.62,318.61 L194.57,318.83 L195.52,319.05 L196.47,319.27 L197.41,319.50 L198.36,319.73 L199.31,319.96 L200.26,320.19 L201.21,320.42 L202.16,320.66 L203.11,320.90 L204.06,321.14 L205.01,321.38 L205.95,321.62 L206.90,321.87 L207.85,322.12 L208.80,322.37 L209.75,322.63 L210.70,322.89 L211.65,323.15 L212.60,323.41 L213.54,323.67 L214.49,323.94 L215.44,324.21 L216.39,324.49 L217.34,324.76 L218.29,325.04 L219.24,325.32 L220.19,325.60 L221.14,325.89 L222.08,326.18 L223.03,326.47 L223.98,326.76 L224.93,327.06 L225.88,327.36 L226.83,327.67 L227.78,327.97 L228.73,328.28 L229.68,328.59 L230.62,328.91 L231.57,329.22 L232.52,329.55 L233.47,329.87 L234.42,330.20 L235.37,330.53 L236.32,330.86 L237.27,331.20 L238.21,331.54 L239.16,331.88 L240.11,332.23 L241.06,332.58 L242.01,332.93 L242.96,333.29 L243.91,333.64 L244.86,334.01 L245.81,334.37 L246.75,334.74 L247.70,335.12 L248.65,335.49 L249.60,335.87 L250.55,336.26 L251.50,336.65 L252.45,337.04 L253.40,337.43 L254.34,337.83 L255.29,338.23 L256.24,338.64 L257.19,339.05 L258.14,339.46 L259.09,339.88 L260.04,340.30 L260.99,340.73 L261.94,341.16 L262.88,341.59 L263.83,342.03 L264.78,342.47 L265.73,342.91 L266.68,343.36 L267.63,343.82 L268.58,344.27 L269.53,344.74 L270.48,345.20 L271.42,345.67 L272.37,346.15 L273.32,346.63 L274.27,347.11 L275.22,347.60 L276.17,348.09 L277.12,348.59 L278.07,349.09 L279.01,349.59 L279.96,350.10 L280.91,350.62 L281.86,351.14 L282.81,351.66 L283.76,352.19 L284.71,352.72 L285.66,353.26 L286.61,353.80 L287.55,354.35 L288.50,354.90 L289.45,355.46 L290.40,356.02 L291.35,356.58 L292.30,357.16 L293.25,357.73 L294.20,358.31 L295.15,358.90 L296.09,359.49 L297.04,360.09 L297.99,360.69 L298.94,361.30 L299.89,361.91 L300.84,362.52 L301.79,363.15 L302.74,363.77 L303.68,364.40 L304.63,365.04 L305.58,365.69 L306.53,366.33 L307.48,366.99 L308.43,367.65 L309.38,368.31 L310.33,368.98 L311.28,369.65 L312.22,370.33 L313.17,371.02 L314.12,371.71 L315.07,372.41 L316.02,373.11 L316.97,373.82 L317.92,374.53 L318.87,375.25 L319.81,375.97 L320.76,376.70 L321.71,377.44 L322.66,378.18 L323.61,378.92 L324.56,379.68 L325.51,380.43 L326.46,381.20 L327.41,381.96 L328.35,382.74 L329.30,383.52 L330.25,384.30 L331.20,385.09 L332.15,385.89 L333.10,386.69 L334.05,387.50 L335.00,388.31 L335.95,389.13 L336.89,389.95 L337.84,390.78 L338.79,391.62 L339.74,392.46 L340.69,393.30 L341.64,394.15 L342.59,395.01 L343.54,395.87 L344.48,396.74 L345.43,397.61 L346.38,398.49 L347.33,399.37 L348.28,400.26 L349.23,401.15 L350.18,402.05 L351.13,402.95 L352.08,403.86 L353.02,404.77 L353.97,405.69 L354.92,406.61 L355.87,407.54 L356.82,408.47 L357.77,409.41 L358.72,410.35 L359.67,411.30 L360.62,412.25 L361.56,413.20 L362.51,414.16 L363.46,415.12 L364.41,416.09 L365.36,417.06 L366.31,418.04 L367.26,419.02 L368.21,420.00 L369.15,420.98 L370.10,421.97 L371.05,422.97 L372.00,423.96 L372.95,424.96 L373.90,425.96 L374.85,426.97 L375.80,427.97 L376.75,428.98 L377.69,430.00 L378.64,431.01 L379.59,432.03 L380.54,433.05 L381.49,434.07 L382.44,435.09 L383.39,436.12 L384.34,437.14 L385.28,438.17 L386.23,439.20 L387.18,440.22 L388.13,441.25 L389.08,442.28 L390.03,443.31 L390.98,444.34 L391.93,445.37 L392.88,446.40 L393.82,447.43 L394.77,448.46 L395.72,449.48 L396.67,450.51 L397.62,451.53 L398.57,452.55 L399.52,453.58 L400.47,454.59 L401.42,455.61 L402.36,456.62 L403.31,457.63 L404.26,458.64 L405.21,459.64 L406.16,460.64 L407.11,461.64 L408.06,462.63 L409.01,463.62 L409.95,464.60 L410.90,465.58 L411.85,466.55 L412.80,467.52 L413.75,468.48 L414.70,469.44 L415.65,470.39 L416.60,471.33 L417.55,472.27 L418.49,473.20 L419.44,474.12 L420.39,475.03 L421.34,475.94 L422.29,476.83 L423.24,477.72 L424.19,478.61 L425.14,479.48 L426.09,480.34 L427.03,481.19 L427.98,482.04 L428.93,482.87 L429.88,483.69 L430.83,484.51 L431.78,485.31 L432.73,486.10 L433.68,486.88 L434.62,487.65 L435.57,488.41 L436.52,489.16 L437.47,489.89 L438.42,490.61 L439.37,491.32 L440.32,492.02 L441.27,492.70 L442.22,493.38 L443.16,494.04 L444.11,494.68 L445.06,495.32 L446.01,495.94 L446.96,496.54 L447.91,497.14 L448.86,497.72 L449.81,498.28 L450.76,498.83 L451.70,499.37 L452.65,499.90 L453.60,500.41 L454.55,500.91 L455.50,501.39 L456.45,501.86 L457.40,502.32 L458.35,502.76 L459.29,503.19 L460.24,503.61 L461.19,504.01 L462.14,504.40 L463.09,504.78 L464.04,505.14 L464.99,505.49 L465.94,505.83 L466.89,506.15 L467.83,506.47 L468.78,506.77 L469.73,507.06 L470.68,507.33 L471.63,507.60 L472.58,507.85 L473.53,508.09 L474.48,508.33 L475.42,508.55 L476.37,508.76 L477.32,508.96 L478.27,509.15 L479.22,509.33 L480.17,509.50 L481.12,509.66 L482.07,509.81 L483.02,509.96 L483.96,510.10 L484.91,510.22 L485.86,510.35 L486.81,510.46 L487.76,510.57 L488.71,510.67 L489.66,510.76 L490.61,510.85 L491.56,510.93 L492.50,511.00 L493.45,511.07 L494.40,511.14 L495.35,511.20 L496.30,511.26 L497.25,511.31" stroke="#ff00ff" stroke-width="2.8000000000000003" stroke-dasharray="7.5 6.5"/>
<path d="M86.40,316.20 L87.35,316.39 L88.30,316.59 L89.25,316.79 L90.20,316.99 L91.14,317.19 L92.09,317.39 L93.04,317.60 L93.99,317.81 L94.94,318.02 L95.89,318.23 L96.84,318.45 L97.79,318.66 L98.73,318.88 L99.68,319.10 L100.63,319.33 L101.58,319.55 L102.53,319.78 L103.48,320.01 L104.43,320.24 L105.38,320.47 L106.33,320.71 L107.27,320.95 L108.22,321.19 L109.17,321.43 L110.12,321.68 L111.07,321.93 L112.02,322.18 L112.97,322.43 L113.92,322.69 L114.87,322.95 L115.81,323.21 L116.76,323.47 L117.71,323.73 L118.66,324.00 L119.61,324.27 L120.56,324.55 L121.51,324.82 L122.46,325.10 L123.40,325.38 L124.35,325.67 L125.30,325.95 L126.25,326.24 L127.20,326.54 L128.15,326.83 L129.10,327.13 L130.05,327.43 L131.00,327.73 L131.94,328.04 L132.89,328.35 L133.84,328.66 L134.79,328.98 L135.74,329.30 L136.69,329.62 L137.64,329.94 L138.59,330.27 L139.54,330.60 L140.48,330.94 L141.43,331.27 L142.38,331.61 L143.33,331.96 L144.28,332.30 L145.23,332.66 L146.18,333.01 L147.13,333.37 L148.07,333.73 L149.02,334.09 L149.97,334.46 L150.92,334.83 L151.87,335.20 L152.82,335.58 L153.77,335.96 L154.72,336.35 L155.67,336.73 L156.61,337.13 L157.56,337.52 L158.51,337.92 L159.46,338.32 L160.41,338.73 L161.36,339.14 L162.31,339.56 L163.26,339.98 L164.20,340.40 L165.15,340.82 L166.10,341.25 L167.05,341.69 L168.00,342.13 L168.95,342.57 L169.90,343.01 L170.85,343.47 L171.80,343.92 L172.74,344.38 L173.69,344.84 L174.64,345.31 L175.59,345.78 L176.54,346.25 L177.49,346.73 L178.44,347.22 L179.39,347.71 L180.34,348.20 L181.28,348.70 L182.23,349.20 L183.18,349.71 L184.13,350.22 L185.08,350.73 L186.03,351.25 L186.98,351.78 L187.93,352.31 L188.87,352.84 L189.82,353.38 L190.77,353.92 L191.72,354.47 L192.67,355.02 L193.62,355.58 L194.57,356.14 L195.52,356.71 L196.47,357.28 L197.41,357.86 L198.36,358.44 L199.31,359.03 L200.26,359.62 L201.21,360.22 L202.16,360.82 L203.11,361.43 L204.06,362.05 L205.01,362.66 L205.95,363.29 L206.90,363.91 L207.85,364.55 L208.80,365.19 L209.75,365.83 L210.70,366.48 L211.65,367.13 L212.60,367.79 L213.54,368.46 L214.49,369.13 L215.44,369.81 L216.39,370.49 L217.34,371.18 L218.29,371.87 L219.24,372.57 L220.19,373.27 L221.14,373.98 L222.08,374.69 L223.03,375.41 L223.98,376.14 L224.93,376.87 L225.88,377.60 L226.83,378.35 L227.78,379.09 L228.73,379.85 L229.68,380.60 L230.62,381.37 L231.57,382.14 L232.52,382.91 L233.47,383.69 L234.42,384.48 L235.37,385.27 L236.32,386.07 L237.27,386.87 L238.21,387.68 L239.16,388.49 L240.11,389.31 L241.06,390.14 L242.01,390.97 L242.96,391.81 L243.91,392.65 L244.86,393.49 L245.81,394.35 L246.75,395.20 L247.70,396.07 L248.65,396.93 L249.60,397.81 L250.55,398.69 L251.50,399.57 L252.45,400.46 L253.40,401.35 L254.34,402.25 L255.29,403.16 L256.24,404.07 L257.19,404.98 L258.14,405.90 L259.09,406.82 L260.04,407.75 L260.99,408.68 L261.94,409.62 L262.88,410.56 L263.83,411.51 L264.78,412.46 L265.73,413.42 L266.68,414.38 L267.63,415.34 L268.58,416.31 L269.53,417.28 L270.48,418.26 L271.42,419.24 L272.37,420.22 L273.32,421.21 L274.27,422.20 L275.22,423.19 L276.17,424.19 L277.12,425.19 L278.07,426.19 L279.01,427.19 L279.96,428.20 L280.91,429.21 L281.86,430.23 L282.81,431.24 L283.76,432.26 L284.71,433.28 L285.66,434.30 L286.61,435.32 L287.55,436.35 L288.50,437.37 L289.45,438.40 L290.40,439.43 L291.35,440.46 L292.30,441.48 L293.25,442.51 L294.20,443.54 L295.15,444.57 L296.09,445.60 L297.04,446.63 L297.99,447.66 L298.94,448.69 L299.89,449.71 L300.84,450.74 L301.79,451.76 L302.74,452.78 L303.68,453.80 L304.63,454.82 L305.58,455.84 L306.53,456.85 L307.48,457.86 L308.43,458.87 L309.38,459.87 L310.33,460.87 L311.28,461.86 L312.22,462.85 L313.17,463.84 L314.12,464.82 L315.07,465.80 L316.02,466.77 L316.97,467.74 L317.92,468.70 L318.87,469.65 L319.81,470.60 L320.76,471.54 L321.71,472.48 L322.66,473.40 L323.61,474.32 L324.56,475.24 L325.51,476.14 L326.46,477.04 L327.41,477.92 L328.35,478.80 L329.30,479.67 L330.25,480.53 L331.20,481.38 L332.15,482.23 L333.10,483.06 L334.05,483.88 L335.00,484.69 L335.95,485.49 L336.89,486.28 L337.84,487.06 L338.79,487.82 L339.74,488.58 L340.69,489.32 L341.64,490.05 L342.59,490.77 L343.54,491.48 L344.48,492.18 L345.43,492.86 L346.38,493.53 L347.33,494.18 L348.28,494.83 L349.23,495.46 L350.18,496.07 L351.13,496.68 L352.08,497.27 L353.02,497.84 L353.97,498.41 L354.92,498.96 L355.87,499.49 L356.82,500.01 L357.77,500.52 L358.72,501.02 L359.67,501.50 L360.62,501.97 L361.56,502.42 L362.51,502.86 L363.46,503.29 L364.41,503.70 L365.36,504.10 L366.31,504.49 L367.26,504.86 L368.21,505.22 L369.15,505.57 L370.10,505.90 L371.05,506.23 L372.00,506.54 L372.95,506.83 L373.90,507.12 L374.85,507.39 L375.80,507.66 L376.75,507.91 L377.69,508.15 L378.64,508.38 L379.59,508.59 L380.54,508.80 L381.49,509.00 L382.44,509.19 L383.39,509.37 L384.34,509.54 L385.28,509.70 L386.23,509.85 L387.18,509.99 L388.13,510.13 L389.08,510.25 L390.03,510.37 L390.98,510.48 L391.93,510.59 L392.88,510.69 L393.82,510.78 L394.77,510.87 L395.72,510.95 L396.67,511.02 L397.62,511.09 L398.57,511.15 L399.52,511.21 L400.47,511.27 L401.42,511.32" stroke="#00ff00" stroke-width="2.8000000000000003" stroke-dasharray="7.5 6.5"/>
<path d="M86.40,365.70 L87.35,366.34 L88.30,367.00 L89.25,367.66 L90.20,368.32 L91.14,368.99 L92.09,369.66 L93.04,370.34 L93.99,371.02 L94.94,371.71 L95.89,372.40 L96.84,373.10 L97.79,373.81 L98.73,374.52 L99.68,375.23 L100.63,375.95 L101.58,376.67 L102.53,377.40 L103.48,378.14 L104.43,378.88 L105.38,379.62 L106.33,380.37 L107.27,381.13 L108.22,381.89 L109.17,382.65 L110.12,383.42 L111.07,384.20 L112.02,384.98 L112.97,385.77 L113.92,386.56 L114.87,387.35 L115.81,388.16 L116.76,388.96 L117.71,389.77 L118.66,390.59 L119.61,391.41 L120.56,392.24 L121.51,393.07 L122.46,393.90 L123.40,394.74 L124.35,395.59 L125.30,396.44 L126.25,397.29 L127.20,398.15 L128.15,399.01 L129.10,399.88 L130.05,400.76 L131.00,401.63 L131.94,402.52 L132.89,403.40 L133.84,404.29 L134.79,405.19 L135.74,406.09 L136.69,406.99 L137.64,407.90 L138.59,408.81 L139.54,409.73 L140.48,410.65 L141.43,411.57 L142.38,412.50 L143.33,413.43 L144.28,414.36 L145.23,415.30 L146.18,416.24 L147.13,417.19 L148.07,418.13 L149.02,419.09 L149.97,420.04 L150.92,421.00 L151.87,421.96 L152.82,422.92 L153.77,423.88 L154.72,424.85 L155.67,425.82 L156.61,426.79 L157.56,427.77 L158.51,428.74 L159.46,429.72 L160.41,430.70 L161.36,431.68 L162.31,432.67 L163.26,433.65 L164.20,434.64 L165.15,435.62 L166.10,436.61 L167.05,437.60 L168.00,438.59 L168.95,439.58 L169.90,440.56 L170.85,441.55 L171.80,442.54 L172.74,443.53 L173.69,444.52 L174.64,445.51 L175.59,446.49 L176.54,447.48 L177.49,448.46 L178.44,449.45 L179.39,450.43 L180.34,451.41 L181.28,452.39 L182.23,453.36 L183.18,454.33 L184.13,455.30 L185.08,456.27 L186.03,457.24 L186.98,458.20 L187.93,459.16 L188.87,460.11 L189.82,461.06 L190.77,462.01 L191.72,462.95 L192.67,463.89 L193.62,464.82 L194.57,465.75 L195.52,466.67 L196.47,467.59 L197.41,468.50 L198.36,469.41 L199.31,470.30 L200.26,471.20 L201.21,472.09 L202.16,472.97 L203.11,473.84 L204.06,474.70 L205.01,475.56 L205.95,476.41 L206.90,477.26 L207.85,478.09 L208.80,478.92 L209.75,479.74 L210.70,480.55 L211.65,481.35 L212.60,482.14 L213.54,482.92 L214.49,483.70 L215.44,484.46 L216.39,485.22 L217.34,485.96 L218.29,486.69 L219.24,487.42 L220.19,488.13 L221.14,488.83 L222.08,489.53 L223.03,490.21 L223.98,490.88 L224.93,491.54 L225.88,492.19 L226.83,492.82 L227.78,493.45 L228.73,494.06 L229.68,494.66 L230.62,495.25 L231.57,495.83 L232.52,496.40 L233.47,496.95 L234.42,497.50 L235.37,498.03 L236.32,498.55 L237.27,499.05 L238.21,499.55 L239.16,500.03 L240.11,500.50 L241.06,500.96 L242.01,501.41 L242.96,501.84 L243.91,502.27 L244.86,502.68 L245.81,503.08 L246.75,503.47 L247.70,503.84 L248.65,504.21 L249.60,504.56 L250.55,504.90 L251.50,505.23 L252.45,505.55 L253.40,505.86 L254.34,506.16 L255.29,506.45 L256.24,506.72 L257.19,506.99 L258.14,507.25 L259.09,507.49 L260.04,507.73 L260.99,507.96 L261.94,508.18 L262.88,508.38 L263.83,508.58 L264.78,508.77 L265.73,508.96 L266.68,509.13 L267.63,509.30 L268.58,509.45 L269.53,509.60 L270.48,509.75 L271.42,509.88 L272.37,510.01 L273.32,510.13 L274.27,510.25 L275.22,510.36 L276.17,510.46 L277.12,510.56 L278.07,510.65 L279.01,510.73 L279.96,510.81 L280.91,510.89 L281.86,510.96 L282.81,511.03 L283.76,511.09 L284.71,511.15 L285.66,511.20 L286.61,511.25 L287.55,511.30" stroke="#ff8000" stroke-width="2.8000000000000003" stroke-dasharray="7.5 6.5"/>
<path d="M84.60,299.77 L85.83,299.81 L87.06,299.86 L88.29,299.90 L89.52,299.94 L90.75,299.99 L91.97,300.03 L93.20,300.08 L94.43,300.12 L95.66,300.17 L96.89,300.22 L98.12,300.27 L99.35,300.31 L100.58,300.36 L101.81,300.41 L103.04,300.46 L104.26,300.51 L105.49,300.57 L106.72,300.62 L107.95,300.67 L109.18,300.73 L110.41,300.78 L111.64,300.83 L112.87,300.89 L114.10,300.95 L115.33,301.00 L116.56,301.06 L117.78,301.12 L119.01,301.18 L120.24,301.24 L121.47,301.30 L122.70,301.36 L123.93,301.43 L125.16,301.49 L126.39,301.55 L127.62,301.62 L128.85,301.69 L130.07,301.75 L131.30,301.82 L132.53,301.89 L133.76,301.96 L134.99,302.03 L136.22,302.10 L137.45,302.17 L138.68,302.24 L139.91,302.32 L141.14,302.39 L142.36,302.47 L143.59,302.55 L144.82,302.62 L146.05,302.70 L147.28,302.78 L148.51,302.86 L149.74,302.95 L150.97,303.03 L152.20,303.11 L153.43,303.20 L154.66,303.28 L155.88,303.37 L157.11,303.46 L158.34,303.55 L159.57,303.64 L160.80,303.73 L162.03,303.83 L163.26,303.92 L164.49,304.01 L165.72,304.11 L166.95,304.21 L168.17,304.31 L169.40,304.41 L170.63,304.51 L171.86,304.61 L173.09,304.72 L174.32,304.82 L175.55,304.93 L176.78,305.04 L178.01,305.15 L179.24,305.26 L180.47,305.37 L181.69,305.49 L182.92,305.60 L184.15,305.72 L185.38,305.84 L186.61,305.96 L187.84,306.08 L189.07,306.21 L190.30,306.33 L191.53,306.46 L192.76,306.58 L193.98,306.71 L195.21,306.85 L196.44,306.98 L197.67,307.11 L198.90,307.25 L200.13,307.39 L201.36,307.53 L202.59,307.67 L203.82,307.81 L205.05,307.96 L206.27,308.11 L207.50,308.26 L208.73,308.41 L209.96,308.56 L211.19,308.72 L212.42,308.87 L213.65,309.03 L214.88,309.19 L216.11,309.36 L217.34,309.52 L218.57,309.69 L219.79,309.86 L221.02,310.03 L222.25,310.21 L223.48,310.38 L224.71,310.56 L225.94,310.74 L227.17,310.92 L228.40,311.11 L229.63,311.30 L230.86,311.49 L232.08,311.68 L233.31,311.87 L234.54,312.07 L235.77,312.27 L237.00,312.47 L238.23,312.68 L239.46,312.89 L240.69,313.10 L241.92,313.31 L243.15,313.53 L244.38,313.75 L245.60,313.97 L246.83,314.19 L248.06,314.42 L249.29,314.65 L250.52,314.88 L251.75,315.12 L252.98,315.36 L254.21,315.60 L255.44,315.84 L256.67,316.09 L257.89,316.34 L259.12,316.60 L260.35,316.85 L261.58,317.12 L262.81,317.38 L264.04,317.65 L265.27,317.92 L266.50,318.19 L267.73,318.47 L268.96,318.75 L270.18,319.04 L271.41,319.33 L272.64,319.62 L273.87,319.91 L275.10,320.21 L276.33,320.52 L277.56,320.83 L278.79,321.14 L280.02,321.45 L281.25,321.77 L282.48,322.09 L283.70,322.42 L284.93,322.75 L286.16,323.09 L287.39,323.43 L288.62,323.77 L289.85,324.12 L291.08,324.47 L292.31,324.83 L293.54,325.19 L294.77,325.56 L295.99,325.93 L297.22,326.30 L298.45,326.68 L299.68,327.07 L300.91,327.46 L302.14,327.85 L303.37,328.25 L304.60,328.66 L305.83,329.06 L307.06,329.48 L308.29,329.90 L309.51,330.32 L310.74,330.75 L311.97,331.19 L313.20,331.63 L314.43,332.08 L315.66,332.53 L316.89,332.98 L318.12,333.45 L319.35,333.92 L320.58,334.39 L321.80,334.87 L323.03,335.36 L324.26,335.85 L325.49,336.34 L326.72,336.85 L327.95,337.36 L329.18,337.87 L330.41,338.40 L331.64,338.93 L332.87,339.46 L334.10,340.00 L335.32,340.55 L336.55,341.11 L337.78,341.67 L339.01,342.23 L340.24,342.81 L341.47,343.39 L342.70,343.98 L343.93,344.58 L345.16,345.18 L346.39,345.79 L347.61,346.40 L348.84,347.03 L350.07,347.66 L351.30,348.30 L352.53,348.95 L353.76,349.60 L354.99,350.26 L356.22,350.93 L357.45,351.61 L358.68,352.29 L359.90,352.98 L361.13,353.68 L362.36,354.39 L363.59,355.11 L364.82,355.83 L366.05,356.57 L367.28,357.31 L368.51,358.06 L369.74,358.81 L370.97,359.58 L372.20,360.35 L373.42,361.14 L374.65,361.93 L375.88,362.73 L377.11,363.54 L378.34,364.35 L379.57,365.18 L380.80,366.02 L382.03,366.86 L383.26,367.71 L384.49,368.58 L385.71,369.45 L386.94,370.33 L388.17,371.22 L389.40,372.11 L390.63,373.02 L391.86,373.94 L393.09,374.86 L394.32,375.80 L395.55,376.74 L396.78,377.70 L398.01,378.66 L399.23,379.63 L400.46,380.61 L401.69,381.60 L402.92,382.60 L404.15,383.61 L405.38,384.63 L406.61,385.66 L407.84,386.70 L409.07,387.74 L410.30,388.80 L411.52,389.87 L412.75,390.94 L413.98,392.02 L415.21,393.12 L416.44,394.22 L417.67,395.33 L418.90,396.45 L420.13,397.58 L421.36,398.71 L422.59,399.86 L423.81,401.01 L425.04,402.18 L426.27,403.35 L427.50,404.53 L428.73,405.72 L429.96,406.91 L431.19,408.12 L432.42,409.33 L433.65,410.55 L434.88,411.78 L436.11,413.01 L437.33,414.25 L438.56,415.50 L439.79,416.76 L441.02,418.02 L442.25,419.29 L443.48,420.56 L444.71,421.84 L445.94,423.13 L447.17,424.42 L448.40,425.71 L449.62,427.02 L450.85,428.32 L452.08,429.63 L453.31,430.95 L454.54,432.26 L455.77,433.58 L457.00,434.91 L458.23,436.23 L459.46,437.56 L460.69,438.89 L461.92,440.23 L463.14,441.56 L464.37,442.89 L465.60,444.23 L466.83,445.56 L468.06,446.89 L469.29,448.22 L470.52,449.55 L471.75,450.88 L472.98,452.21 L474.21,453.53 L475.43,454.85 L476.66,456.16 L477.89,457.47 L479.12,458.78 L480.35,460.08 L481.58,461.37 L482.81,462.65 L484.04,463.93 L485.27,465.20 L486.50,466.46 L487.72,467.72 L488.95,468.96 L490.18,470.19 L491.41,471.41 L492.64,472.62 L493.87,473.82 L495.10,475.01 L496.33,476.18 L497.56,477.34 L498.79,478.48 L500.02,479.61 L501.24,480.73 L502.47,481.82 L503.70,482.91 L504.93,483.97 L506.16,485.02 L507.39,486.05 L508.62,487.06 L509.85,488.05 L511.08,489.02 L512.31,489.97 L513.53,490.90 L514.76,491.81 L515.99,492.70 L517.22,493.57 L518.45,494.42 L519.68,495.24 L520.91,496.04 L522.14,496.82 L523.37,497.58 L524.60,498.32 L525.83,499.03 L527.05,499.72 L528.28,500.38 L529.51,501.03 L530.74,501.65 L531.97,502.24 L533.20,502.82 L534.43,503.37 L535.66,503.90 L536.89,504.41 L538.12,504.89 L539.34,505.36 L540.57,505.80 L541.80,506.22 L543.03,506.62 L544.26,507.00 L545.49,507.36 L546.72,507.70 L547.95,508.02 L549.18,508.32 L550.41,508.60 L551.64,508.87 L552.86,509.12 L554.09,509.35 L555.32,509.57 L556.55,509.78 L557.78,509.96 L559.01,510.14 L560.24,510.30 L561.47,510.45 L562.70,510.59 L563.93,510.71 L565.15,510.83 L566.38,510.94 L567.61,511.03 L568.84,511.12 L570.07,511.20 L571.30,511.27 L572.53,511.33 L573.76,511.39 L574.99,511.44" stroke="#0000f5" stroke-width="2.95"/>
<path d="M84.60,303.71 L85.51,303.79 L86.43,303.86 L87.34,303.93 L88.25,304.01 L89.16,304.08 L90.08,304.15 L90.99,304.23 L91.90,304.30 L92.81,304.38 L93.73,304.46 L94.64,304.53 L95.55,304.61 L96.46,304.69 L97.38,304.76 L98.29,304.84 L99.20,304.92 L100.11,305.00 L101.03,305.08 L101.94,305.16 L102.85,305.24 L103.76,305.32 L104.68,305.40 L105.59,305.48 L106.50,305.57 L107.41,305.65 L108.33,305.74 L109.24,305.82 L110.15,305.91 L111.06,305.99 L111.98,306.08 L112.89,306.17 L113.80,306.26 L114.71,306.35 L115.63,306.44 L116.54,306.53 L117.45,306.62 L118.36,306.71 L119.28,306.81 L120.19,306.90 L121.10,306.99 L122.01,307.09 L122.93,307.19 L123.84,307.28 L124.75,307.38 L125.66,307.48 L126.58,307.58 L127.49,307.68 L128.40,307.79 L129.31,307.89 L130.23,308.00 L131.14,308.10 L132.05,308.21 L132.96,308.31 L133.88,308.42 L134.79,308.53 L135.70,308.64 L136.61,308.76 L137.53,308.87 L138.44,308.98 L139.35,309.10 L140.26,309.21 L141.18,309.33 L142.09,309.45 L143.00,309.57 L143.91,309.69 L144.83,309.81 L145.74,309.94 L146.65,310.06 L147.56,310.19 L148.48,310.32 L149.39,310.45 L150.30,310.58 L151.21,310.71 L152.13,310.84 L153.04,310.98 L153.95,311.11 L154.86,311.25 L155.78,311.39 L156.69,311.53 L157.60,311.67 L158.52,311.81 L159.43,311.96 L160.34,312.10 L161.25,312.25 L162.17,312.40 L163.08,312.55 L163.99,312.70 L164.90,312.85 L165.82,313.01 L166.73,313.17 L167.64,313.32 L168.55,313.48 L169.47,313.65 L170.38,313.81 L171.29,313.97 L172.20,314.14 L173.12,314.31 L174.03,314.48 L174.94,314.65 L175.85,314.83 L176.77,315.00 L177.68,315.18 L178.59,315.36 L179.50,315.54 L180.42,315.72 L181.33,315.90 L182.24,316.09 L183.15,316.28 L184.07,316.47 L184.98,316.66 L185.89,316.85 L186.80,317.05 L187.72,317.25 L188.63,317.45 L189.54,317.65 L190.45,317.85 L191.37,318.06 L192.28,318.27 L193.19,318.47 L194.10,318.69 L195.02,318.90 L195.93,319.12 L196.84,319.33 L197.75,319.55 L198.67,319.78 L199.58,320.00 L200.49,320.23 L201.40,320.45 L202.32,320.69 L203.23,320.92 L204.14,321.15 L205.05,321.39 L205.97,321.63 L206.88,321.87 L207.79,322.12 L208.70,322.36 L209.62,322.61 L210.53,322.86 L211.44,323.12 L212.35,323.37 L213.27,323.63 L214.18,323.89 L215.09,324.15 L216.00,324.42 L216.92,324.68 L217.83,324.95 L218.74,325.23 L219.65,325.50 L220.57,325.78 L221.48,326.06 L222.39,326.34 L223.30,326.63 L224.22,326.91 L225.13,327.20 L226.04,327.50 L226.95,327.79 L227.87,328.09 L228.78,328.39 L229.69,328.69 L230.61,329.00 L231.52,329.31 L232.43,329.62 L233.34,329.93 L234.26,330.25 L235.17,330.57 L236.08,330.89 L236.99,331.21 L237.91,331.54 L238.82,331.87 L239.73,332.20 L240.64,332.54 L241.56,332.88 L242.47,333.22 L243.38,333.56 L244.29,333.91 L245.21,334.26 L246.12,334.61 L247.03,334.97 L247.94,335.32 L248.86,335.69 L249.77,336.05 L250.68,336.42 L251.59,336.79 L252.51,337.16 L253.42,337.54 L254.33,337.92 L255.24,338.30 L256.16,338.68 L257.07,339.07 L257.98,339.46 L258.89,339.86 L259.81,340.26 L260.72,340.66 L261.63,341.06 L262.54,341.47 L263.46,341.88 L264.37,342.29 L265.28,342.71 L266.19,343.13 L267.11,343.55 L268.02,343.98 L268.93,344.41 L269.84,344.84 L270.76,345.28 L271.67,345.72 L272.58,346.16 L273.49,346.61 L274.41,347.06 L275.32,347.51 L276.23,347.97 L277.14,348.43 L278.06,348.89 L278.97,349.36 L279.88,349.83 L280.79,350.30 L281.71,350.78 L282.62,351.26 L283.53,351.74 L284.44,352.23 L285.36,352.72 L286.27,353.21 L287.18,353.71 L288.09,354.21 L289.01,354.72 L289.92,355.23 L290.83,355.74 L291.74,356.26 L292.66,356.78 L293.57,357.30 L294.48,357.83 L295.39,358.36 L296.31,358.89 L297.22,359.43 L298.13,359.97 L299.04,360.52 L299.96,361.07 L300.87,361.62 L301.78,362.18 L302.69,362.74 L303.61,363.30 L304.52,363.87 L305.43,364.44 L306.35,365.02 L307.26,365.60 L308.17,366.18 L309.08,366.77 L310.00,367.36 L310.91,367.96 L311.82,368.56 L312.73,369.16 L313.65,369.77 L314.56,370.38 L315.47,371.00 L316.38,371.62 L317.30,372.24 L318.21,372.87 L319.12,373.50 L320.03,374.14 L320.95,374.78 L321.86,375.42 L322.77,376.07 L323.68,376.72 L324.60,377.38 L325.51,378.04 L326.42,378.71 L327.33,379.37 L328.25,380.05 L329.16,380.73 L330.07,381.41 L330.98,382.09 L331.90,382.78 L332.81,383.48 L333.72,384.18 L334.63,384.88 L335.55,385.59 L336.46,386.30 L337.37,387.02 L338.28,387.74 L339.20,388.47 L340.11,389.20 L341.02,389.93 L341.93,390.67 L342.85,391.41 L343.76,392.15 L344.67,392.90 L345.58,393.66 L346.50,394.41 L347.41,395.17 L348.32,395.93 L349.23,396.69 L350.15,397.46 L351.06,398.22 L351.97,398.99 L352.88,399.77 L353.80,400.54 L354.71,401.31 L355.62,402.09 L356.53,402.86 L357.45,403.64 L358.36,404.42 L359.27,405.19 L360.18,405.97 L361.10,406.75 L362.01,407.53 L362.92,408.31 L363.83,409.08 L364.75,409.86 L365.66,410.63 L366.57,411.41 L367.48,412.18 L368.40,412.95 L369.31,413.72 L370.22,414.49 L371.13,415.26 L372.05,416.02 L372.96,416.78 L373.87,417.54 L374.78,418.29 L375.70,419.05 L376.61,419.79 L377.52,420.54 L378.44,421.28 L379.35,422.02 L380.26,422.75 L381.17,423.49 L382.09,424.21 L383.00,424.93 L383.91,425.65 L384.82,426.36 L385.74,427.07 L386.65,427.77 L387.56,428.46 L388.47,429.15 L389.39,429.84 L390.30,430.52 L391.21,431.19 L392.12,431.85 L393.04,432.51 L393.95,433.16 L394.86,433.81 L395.77,434.45 L396.69,435.08 L397.60,435.70 L398.51,436.32 L399.42,436.92 L400.34,437.52 L401.25,438.12 L402.16,438.71 L403.07,439.29 L403.99,439.87 L404.90,440.44 L405.81,441.01 L406.72,441.57 L407.64,442.13 L408.55,442.69 L409.46,443.24 L410.37,443.79 L411.29,444.33 L412.20,444.88 L413.11,445.42 L414.02,445.96 L414.94,446.50 L415.85,447.03 L416.76,447.57 L417.67,448.11 L418.59,448.64 L419.50,449.18 L420.41,449.71 L421.32,450.25 L422.24,450.79 L423.15,451.33 L424.06,451.88 L424.97,452.42 L425.89,452.97 L426.80,453.52 L427.71,454.07 L428.62,454.63 L429.54,455.19 L430.45,455.76 L431.36,456.33 L432.27,456.91 L433.19,457.49 L434.10,458.07 L435.01,458.67 L435.92,459.27 L436.84,459.87 L437.75,460.48 L438.66,461.10 L439.57,461.73 L440.49,462.37 L441.40,463.01 L442.31,463.67 L443.22,464.33 L444.14,465.00 L445.05,465.68 L445.96,466.37 L446.87,467.07 L447.79,467.79 L448.70,468.51" stroke="#ff00ff" stroke-width="2.95"/>
<path d="M84.60,315.80 L85.27,315.89 L85.94,315.98 L86.61,316.08 L87.28,316.18 L87.95,316.27 L88.62,316.38 L89.29,316.48 L89.96,316.58 L90.63,316.69 L91.30,316.79 L91.97,316.90 L92.64,317.01 L93.31,317.12 L93.98,317.24 L94.65,317.35 L95.32,317.47 L95.99,317.59 L96.66,317.71 L97.33,317.83 L98.00,317.95 L98.67,318.08 L99.34,318.20 L100.01,318.33 L100.68,318.46 L101.35,318.59 L102.02,318.72 L102.69,318.86 L103.36,318.99 L104.04,319.13 L104.71,319.27 L105.38,319.41 L106.05,319.55 L106.72,319.69 L107.39,319.84 L108.06,319.98 L108.73,320.13 L109.40,320.28 L110.07,320.43 L110.74,320.59 L111.41,320.74 L112.08,320.90 L112.75,321.05 L113.42,321.21 L114.09,321.37 L114.76,321.54 L115.43,321.70 L116.10,321.87 L116.77,322.03 L117.44,322.20 L118.11,322.37 L118.78,322.54 L119.45,322.72 L120.12,322.89 L120.79,323.07 L121.46,323.25 L122.13,323.42 L122.80,323.61 L123.47,323.79 L124.14,323.97 L124.81,324.16 L125.48,324.35 L126.15,324.53 L126.82,324.73 L127.49,324.92 L128.16,325.11 L128.83,325.31 L129.50,325.50 L130.17,325.70 L130.84,325.90 L131.51,326.10 L132.18,326.30 L132.85,326.51 L133.52,326.72 L134.19,326.92 L134.86,327.13 L135.53,327.34 L136.20,327.56 L136.87,327.77 L137.54,327.98 L138.21,328.20 L138.88,328.42 L139.55,328.64 L140.22,328.86 L140.89,329.08 L141.56,329.31 L142.24,329.54 L142.91,329.76 L143.58,329.99 L144.25,330.22 L144.92,330.46 L145.59,330.69 L146.26,330.93 L146.93,331.16 L147.60,331.40 L148.27,331.64 L148.94,331.88 L149.61,332.13 L150.28,332.37 L150.95,332.62 L151.62,332.87 L152.29,333.11 L152.96,333.37 L153.63,333.62 L154.30,333.87 L154.97,334.13 L155.64,334.38 L156.31,334.64 L156.98,334.90 L157.65,335.17 L158.32,335.43 L158.99,335.69 L159.66,335.96 L160.33,336.23 L161.00,336.50 L161.67,336.77 L162.34,337.04 L163.01,337.31 L163.68,337.59 L164.35,337.87 L165.02,338.15 L165.69,338.43 L166.36,338.71 L167.03,338.99 L167.70,339.28 L168.37,339.56 L169.04,339.85 L169.71,340.14 L170.38,340.43 L171.05,340.72 L171.72,341.02 L172.39,341.31 L173.06,341.61 L173.73,341.91 L174.40,342.21 L175.07,342.51 L175.74,342.81 L176.41,343.12 L177.08,343.42 L177.75,343.73 L178.42,344.04 L179.09,344.35 L179.76,344.66 L180.44,344.97 L181.11,345.29 L181.78,345.61 L182.45,345.92 L183.12,346.24 L183.79,346.56 L184.46,346.88 L185.13,347.21 L185.80,347.53 L186.47,347.86 L187.14,348.18 L187.81,348.51 L188.48,348.84 L189.15,349.17 L189.82,349.50 L190.49,349.84 L191.16,350.17 L191.83,350.51 L192.50,350.84 L193.17,351.18 L193.84,351.52 L194.51,351.86 L195.18,352.20 L195.85,352.55 L196.52,352.89 L197.19,353.24 L197.86,353.58 L198.53,353.93 L199.20,354.28 L199.87,354.63 L200.54,354.98 L201.21,355.33 L201.88,355.68 L202.55,356.04 L203.22,356.39 L203.89,356.75 L204.56,357.11 L205.23,357.47 L205.90,357.83 L206.57,358.19 L207.24,358.55 L207.91,358.91 L208.58,359.27 L209.25,359.64 L209.92,360.00 L210.59,360.37 L211.26,360.73 L211.93,361.10 L212.60,361.47 L213.27,361.84 L213.94,362.21 L214.61,362.58 L215.28,362.96 L215.95,363.33 L216.62,363.70 L217.29,364.08 L217.96,364.45 L218.64,364.83 L219.31,365.21 L219.98,365.59 L220.65,365.97 L221.32,366.34 L221.99,366.73 L222.66,367.11 L223.33,367.49 L224.00,367.87 L224.67,368.25 L225.34,368.64 L226.01,369.02 L226.68,369.41 L227.35,369.80 L228.02,370.18 L228.69,370.57 L229.36,370.96 L230.03,371.35 L230.70,371.74 L231.37,372.13 L232.04,372.52 L232.71,372.91 L233.38,373.30 L234.05,373.69 L234.72,374.08 L235.39,374.48 L236.06,374.87 L236.73,375.27 L237.40,375.66 L238.07,376.06 L238.74,376.45 L239.41,376.85 L240.08,377.25 L240.75,377.64 L241.42,378.04 L242.09,378.44 L242.76,378.84 L243.43,379.24 L244.10,379.64 L244.77,380.04 L245.44,380.44 L246.11,380.84 L246.78,381.24 L247.45,381.64 L248.12,382.04 L248.79,382.44 L249.46,382.85 L250.13,383.25 L250.80,383.65 L251.47,384.05 L252.14,384.46 L252.81,384.86 L253.48,385.27 L254.15,385.67 L254.82,386.08 L255.49,386.48 L256.16,386.89 L256.84,387.29 L257.51,387.70 L258.18,388.10 L258.85,388.51 L259.52,388.91 L260.19,389.32 L260.86,389.73 L261.53,390.13 L262.20,390.54 L262.87,390.94 L263.54,391.35 L264.21,391.76 L264.88,392.16 L265.55,392.57 L266.22,392.98 L266.89,393.39 L267.56,393.79 L268.23,394.20 L268.90,394.60 L269.57,395.01 L270.24,395.42 L270.91,395.82 L271.58,396.23 L272.25,396.63 L272.92,397.03 L273.59,397.44 L274.26,397.84 L274.93,398.24 L275.60,398.64 L276.27,399.04 L276.94,399.43 L277.61,399.83 L278.28,400.23 L278.95,400.62 L279.62,401.01 L280.29,401.41 L280.96,401.80 L281.63,402.18 L282.30,402.57 L282.97,402.96 L283.64,403.34 L284.31,403.72 L284.98,404.10 L285.65,404.48 L286.32,404.86 L286.99,405.23 L287.66,405.60 L288.33,405.97 L289.00,406.34 L289.67,406.70 L290.34,407.07 L291.01,407.43 L291.68,407.78 L292.35,408.14 L293.02,408.49 L293.69,408.84 L294.36,409.19 L295.04,409.53 L295.71,409.87 L296.38,410.21 L297.05,410.54 L297.72,410.88 L298.39,411.20 L299.06,411.53 L299.73,411.85 L300.40,412.17 L301.07,412.48 L301.74,412.80 L302.41,413.10 L303.08,413.41 L303.75,413.71 L304.42,414.00 L305.09,414.30 L305.76,414.59 L306.43,414.87 L307.10,415.15 L307.77,415.43 L308.44,415.70 L309.11,415.97 L309.78,416.23 L310.45,416.49 L311.12,416.75 L311.79,417.00 L312.46,417.25 L313.13,417.49 L313.80,417.73 L314.47,417.97 L315.14,418.20 L315.81,418.44 L316.48,418.66 L317.15,418.89 L317.82,419.11 L318.49,419.33 L319.16,419.55 L319.83,419.77 L320.50,419.98 L321.17,420.19 L321.84,420.40 L322.51,420.61 L323.18,420.81 L323.85,421.01 L324.52,421.22 L325.19,421.42 L325.86,421.62 L326.53,421.82 L327.20,422.01 L327.87,422.21 L328.54,422.41 L329.21,422.60 L329.88,422.80 L330.55,422.99 L331.22,423.18 L331.89,423.38 L332.56,423.57 L333.24,423.76 L333.91,423.96 L334.58,424.15 L335.25,424.35 L335.92,424.54 L336.59,424.74 L337.26,424.94 L337.93,425.13 L338.60,425.33 L339.27,425.53 L339.94,425.73 L340.61,425.94 L341.28,426.14 L341.95,426.35 L342.62,426.56 L343.29,426.77 L343.96,426.98 L344.63,427.19 L345.30,427.41 L345.97,427.63 L346.64,427.85 L347.31,428.07 L347.98,428.30 L348.65,428.53 L349.32,428.76 L349.99,429.00 L350.66,429.24 L351.33,429.48 L352.00,429.72" stroke="#00ff00" stroke-width="2.95"/>
<path d="M84.60,351.69 L85.84,352.24 L87.08,352.80 L88.32,353.38 L89.57,353.97 L90.81,354.57 L92.05,355.17 L93.29,355.79 L94.53,356.42 L95.77,357.06 L97.02,357.71 L98.26,358.37 L99.50,359.03 L100.74,359.71 L101.98,360.39 L103.22,361.07 L104.47,361.77 L105.71,362.47 L106.95,363.17 L108.19,363.88 L109.43,364.60 L110.67,365.32 L111.92,366.04 L113.16,366.77 L114.40,367.50 L115.64,368.23 L116.88,368.96 L118.12,369.70 L119.36,370.44 L120.61,371.17 L121.85,371.91 L123.09,372.65 L124.33,373.39 L125.57,374.13 L126.81,374.86 L128.06,375.60 L129.30,376.33 L130.54,377.06 L131.78,377.79 L133.02,378.51 L134.26,379.23 L135.51,379.94 L136.75,380.65 L137.99,381.36 L139.23,382.06 L140.47,382.75 L141.71,383.44 L142.96,384.12 L144.20,384.79 L145.44,385.46 L146.68,386.12 L147.92,386.76 L149.16,387.41 L150.41,388.04 L151.65,388.67 L152.89,389.28 L154.13,389.89 L155.37,390.50 L156.61,391.09 L157.85,391.68 L159.10,392.25 L160.34,392.82 L161.58,393.39 L162.82,393.94 L164.06,394.48 L165.30,395.02 L166.55,395.55 L167.79,396.07 L169.03,396.58 L170.27,397.08 L171.51,397.58 L172.75,398.06 L174.00,398.54 L175.24,399.01 L176.48,399.47 L177.72,399.92 L178.96,400.37 L180.20,400.80 L181.45,401.23 L182.69,401.64 L183.93,402.05 L185.17,402.45 L186.41,402.84 L187.65,403.22 L188.89,403.59 L190.14,403.96 L191.38,404.31 L192.62,404.66 L193.86,405.00 L195.10,405.33 L196.34,405.65 L197.59,405.96 L198.83,406.27 L200.07,406.57 L201.31,406.86 L202.55,407.14 L203.79,407.42 L205.04,407.69 L206.28,407.95 L207.52,408.21 L208.76,408.45 L210.00,408.70 L211.24,408.94 L212.49,409.17 L213.73,409.39 L214.97,409.61 L216.21,409.82 L217.45,410.03 L218.69,410.24 L219.93,410.43 L221.18,410.63 L222.42,410.82 L223.66,411.00 L224.90,411.18 L226.14,411.35 L227.38,411.52 L228.63,411.69 L229.87,411.85 L231.11,412.01 L232.35,412.17 L233.59,412.32 L234.83,412.47 L236.08,412.61 L237.32,412.76 L238.56,412.90 L239.80,413.03 L241.04,413.17 L242.28,413.30 L243.53,413.43 L244.77,413.56 L246.01,413.68 L247.25,413.81 L248.49,413.93 L249.73,414.05 L250.97,414.17 L252.22,414.29 L253.46,414.41 L254.70,414.53 L255.94,414.65 L257.18,414.76 L258.42,414.88 L259.67,414.99 L260.91,415.11 L262.15,415.22 L263.39,415.34 L264.63,415.46 L265.87,415.57 L267.12,415.69 L268.36,415.81 L269.60,415.93 L270.84,416.05 L272.08,416.17 L273.32,416.30 L274.57,416.42 L275.81,416.55 L277.05,416.68 L278.29,416.81 L279.53,416.94 L280.77,417.08 L282.02,417.22 L283.26,417.36 L284.50,417.50 L285.74,417.65 L286.98,417.80 L288.22,417.95 L289.46,418.11 L290.71,418.26 L291.95,418.42 L293.19,418.59 L294.43,418.75 L295.67,418.92 L296.91,419.09 L298.16,419.27 L299.40,419.44 L300.64,419.62 L301.88,419.81 L303.12,419.99 L304.36,420.18 L305.61,420.38 L306.85,420.57 L308.09,420.77 L309.33,420.97 L310.57,421.18 L311.81,421.39 L313.06,421.60 L314.30,421.81 L315.54,422.03 L316.78,422.25 L318.02,422.48 L319.26,422.71 L320.50,422.94 L321.75,423.18 L322.99,423.42 L324.23,423.66 L325.47,423.91 L326.71,424.16 L327.95,424.41 L329.20,424.67 L330.44,424.93 L331.68,425.20 L332.92,425.47 L334.16,425.74 L335.40,426.02 L336.65,426.30 L337.89,426.58 L339.13,426.87 L340.37,427.17 L341.61,427.46 L342.85,427.76 L344.10,428.07 L345.34,428.38 L346.58,428.69 L347.82,429.01 L349.06,429.33 L350.30,429.66 L351.54,429.99 L352.79,430.32 L354.03,430.66 L355.27,431.01 L356.51,431.36 L357.75,431.71 L358.99,432.07 L360.24,432.43 L361.48,432.79 L362.72,433.16 L363.96,433.54 L365.20,433.91 L366.44,434.30 L367.69,434.68 L368.93,435.07 L370.17,435.47 L371.41,435.87 L372.65,436.27 L373.89,436.68 L375.14,437.09 L376.38,437.51 L377.62,437.93 L378.86,438.36 L380.10,438.79 L381.34,439.22 L382.58,439.66 L383.83,440.10 L385.07,440.55 L386.31,441.00 L387.55,441.45 L388.79,441.91 L390.03,442.37 L391.28,442.84 L392.52,443.31 L393.76,443.78 L395.00,444.26 L396.24,444.75 L397.48,445.23 L398.73,445.72 L399.97,446.22 L401.21,446.72 L402.45,447.22 L403.69,447.73 L404.93,448.24 L406.18,448.76 L407.42,449.28 L408.66,449.80 L409.90,450.33 L411.14,450.86 L412.38,451.40 L413.63,451.94 L414.87,452.48 L416.11,453.03 L417.35,453.58 L418.59,454.14 L419.83,454.70 L421.07,455.26 L422.32,455.83 L423.56,456.40 L424.80,456.98 L426.04,457.56 L427.28,458.14 L428.52,458.73 L429.77,459.32 L431.01,459.91 L432.25,460.51 L433.49,461.12 L434.73,461.72 L435.97,462.33 L437.22,462.95 L438.46,463.57 L439.70,464.19 L440.94,464.82 L442.18,465.45 L443.42,466.08 L444.67,466.72 L445.91,467.36 L447.15,468.00 L448.39,468.65 L449.63,469.31 L450.87,469.96 L452.11,470.62 L453.36,471.28 L454.60,471.95 L455.84,472.62 L457.08,473.29 L458.32,473.96 L459.56,474.63 L460.81,475.31 L462.05,475.99 L463.29,476.66 L464.53,477.34 L465.77,478.02 L467.01,478.70 L468.26,479.38 L469.50,480.06 L470.74,480.73 L471.98,481.41 L473.22,482.09 L474.46,482.76 L475.71,483.43 L476.95,484.10 L478.19,484.77 L479.43,485.43 L480.67,486.10 L481.91,486.75 L483.15,487.41 L484.40,488.06 L485.64,488.71 L486.88,489.35 L488.12,489.99 L489.36,490.63 L490.60,491.26 L491.85,491.88 L493.09,492.50 L494.33,493.12 L495.57,493.72 L496.81,494.32 L498.05,494.92 L499.30,495.50 L500.54,496.08 L501.78,496.64 L503.02,497.20 L504.26,497.75 L505.50,498.29 L506.75,498.81 L507.99,499.33 L509.23,499.84 L510.47,500.33 L511.71,500.82 L512.95,501.29 L514.19,501.76 L515.44,502.21 L516.68,502.65 L517.92,503.08 L519.16,503.50 L520.40,503.91 L521.64,504.31 L522.89,504.70 L524.13,505.07 L525.37,505.44 L526.61,505.79 L527.85,506.13 L529.09,506.46 L530.34,506.78 L531.58,507.09 L532.82,507.38 L534.06,507.66 L535.30,507.93 L536.54,508.19 L537.79,508.44 L539.03,508.68 L540.27,508.90 L541.51,509.11 L542.75,509.31 L543.99,509.50 L545.24,509.67 L546.48,509.84 L547.72,510.00 L548.96,510.14 L550.20,510.28 L551.44,510.40 L552.68,510.52 L553.93,510.63 L555.17,510.73 L556.41,510.83 L557.65,510.92 L558.89,511.00 L560.13,511.07 L561.38,511.14 L562.62,511.20 L563.86,511.25 L565.10,511.30 L566.34,511.35 L567.58,511.39 L568.83,511.43 L570.07,511.46 L571.31,511.49 L572.55,511.52 L573.79,511.54 L575.03,511.57 L576.28,511.59 L577.52,511.61 L578.76,511.62 L580.00,511.64" stroke="#ff8000" stroke-width="2.95"/>
</g>
<g stroke="#666666" fill="none">
<line x1="86.4" y1="63.2" x2="86.4" y2="523.1" stroke-width="3.1"/>
<line x1="72.3" y1="284.2" x2="770.9" y2="284.2" stroke-width="3.1"/>
<line x1="72.3" y1="511.8" x2="763.7" y2="511.8" stroke-width="3.1"/>
<path d="M198.12,284.2 v-7.0 M309.84,284.2 v-7.0 M421.56,284.2 v-7.0 M533.28,284.2 v-7.0 M645.00,284.2 v-7.0 M756.72,284.2 v-7.0 M196.94,511.8 v-7.0 M307.48,511.8 v-7.0 M418.02,511.8 v-7.0 M528.56,511.8 v-7.0 M639.10,511.8 v-7.0 M749.64,511.8 v-7.0 M86.4,241.88 h5.6 M86.4,199.56 h5.6 M86.4,157.24 h5.6 M86.4,114.92 h5.6 M86.4,72.60 h5.6 M86.4,468.74 h5.6 M86.4,425.68 h5.6 M86.4,382.62 h5.6 M86.4,339.56 h5.6 M86.4,296.50 h5.6" stroke-width="3.0"/>
<path d="M120.03,284.2 v-3.5 M139.70,284.2 v-3.5 M153.66,284.2 v-3.5 M164.49,284.2 v-3.5 M173.34,284.2 v-3.5 M180.81,284.2 v-3.5 M187.29,284.2 v-3.5 M193.01,284.2 v-3.5 M231.75,284.2 v-3.5 M251.42,284.2 v-3.5 M265.38,284.2 v-3.5 M276.21,284.2 v-3.5 M285.06,284.2 v-3.5 M292.53,284.2 v-3.5 M299.01,284.2 v-3.5 M304.73,284.2 v-3.5 M343.47,284.2 v-3.5 M363.14,284.2 v-3.5 M377.10,284.2 v-3.5 M387.93,284.2 v-3.5 M396.78,284.2 v-3.5 M404.25,284.2 v-3.5 M410.73,284.2 v-3.5 M416.45,284.2 v-3.5 M455.19,284.2 v-3.5 M474.86,284.2 v-3.5 M488.82,284.2 v-3.5 M499.65,284.2 v-3.5 M508.50,284.2 v-3.5 M515.97,284.2 v-3.5 M522.45,284.2 v-3.5 M528.17,284.2 v-3.5 M566.91,284.2 v-3.5 M586.58,284.2 v-3.5 M600.54,284.2 v-3.5 M611.37,284.2 v-3.5 M620.22,284.2 v-3.5 M627.69,284.2 v-3.5 M634.17,284.2 v-3.5 M639.89,284.2 v-3.5 M678.63,284.2 v-3.5 M698.30,284.2 v-3.5 M712.26,284.2 v-3.5 M723.09,284.2 v-3.5 M731.94,284.2 v-3.5 M739.41,284.2 v-3.5 M745.89,284.2 v-3.5 M751.61,284.2 v-3.5 M75.57,284.2 v-3.5 M81.29,284.2 v-3.5 M119.68,511.8 v-3.5 M139.14,511.8 v-3.5 M152.95,511.8 v-3.5 M163.66,511.8 v-3.5 M172.42,511.8 v-3.5 M179.82,511.8 v-3.5 M186.23,511.8 v-3.5 M191.88,511.8 v-3.5 M230.22,511.8 v-3.5 M249.68,511.8 v-3.5 M263.49,511.8 v-3.5 M274.20,511.8 v-3.5 M282.96,511.8 v-3.5 M290.36,511.8 v-3.5 M296.77,511.8 v-3.5 M302.42,511.8 v-3.5 M340.76,511.8 v-3.5 M360.22,511.8 v-3.5 M374.03,511.8 v-3.5 M384.74,511.8 v-3.5 M393.50,511.8 v-3.5 M400.90,511.8 v-3.5 M407.31,511.8 v-3.5 M412.96,511.8 v-3.5 M451.30,511.8 v-3.5 M470.76,511.8 v-3.5 M484.57,511.8 v-3.5 M495.28,511.8 v-3.5 M504.04,511.8 v-3.5 M511.44,511.8 v-3.5 M517.85,511.8 v-3.5 M523.50,511.8 v-3.5 M561.84,511.8 v-3.5 M581.30,511.8 v-3.5 M595.11,511.8 v-3.5 M605.82,511.8 v-3.5 M614.58,511.8 v-3.5 M621.98,511.8 v-3.5 M628.39,511.8 v-3.5 M634.04,511.8 v-3.5 M672.38,511.8 v-3.5 M691.84,511.8 v-3.5 M705.65,511.8 v-3.5 M716.36,511.8 v-3.5 M725.12,511.8 v-3.5 M732.52,511.8 v-3.5 M738.93,511.8 v-3.5 M744.58,511.8 v-3.5 M75.69,511.8 v-3.5 M81.34,511.8 v-3.5 M86.4,275.74 h3.5 M86.4,267.27 h3.5 M86.4,258.81 h3.5 M86.4,250.34 h3.5 M86.4,233.42 h3.5 M86.4,224.95 h3.5 M86.4,216.49 h3.5 M86.4,208.02 h3.5 M86.4,191.10 h3.5 M86.4,182.63 h3.5 M86.4,174.17 h3.5 M86.4,165.70 h3.5 M86.4,148.78 h3.5 M86.4,140.31 h3.5 M86.4,131.85 h3.5 M86.4,123.38 h3.5 M86.4,106.46 h3.5 M86.4,97.99 h3.5 M86.4,89.53 h3.5 M86.4,81.06 h3.5 M86.4,64.14 h3.5 M86.4,520.41 h3.5 M86.4,503.19 h3.5 M86.4,494.58 h3.5 M86.4,485.96 h3.5 M86.4,477.35 h3.5 M86.4,460.13 h3.5 M86.4,451.52 h3.5 M86.4,442.90 h3.5 M86.4,434.29 h3.5 M86.4,417.07 h3.5 M86.4,408.46 h3.5 M86.4,399.84 h3.5 M86.4,391.23 h3.5 M86.4,374.01 h3.5 M86.4,365.40 h3.5 M86.4,356.78 h3.5 M86.4,348.17 h3.5 M86.4,330.95 h3.5 M86.4,322.34 h3.5 M86.4,313.72 h3.5 M86.4,305.11 h3.5 M86.4,292.3 h3.5" stroke-width="2.5"/>
</g>
<g stroke="#666666" fill="none">
<line x1="503.65" y1="309.8" x2="503.65" y2="466.0" stroke-width="2.7"/>
<line x1="499.4" y1="457.6" x2="732.4" y2="457.6" stroke-width="2.7"/>
<path d="M525.9,457.6 v-3.9 M615.4,457.6 v-3.9 M727.7,457.6 v-3.9 M503.65,325.5 h2.5 M503.65,360.3 h2.5 M503.65,395.1 h2.5 M503.65,429.9 h2.5 M503.65,464.6 h2.5" stroke-width="2.2"/>
</g>
<g fill="none" stroke-width="3.05" stroke-linecap="butt">
<path d="M524.60,322.07 L526.31,323.42 L528.01,324.74 L529.72,326.05 L531.43,327.35 L533.13,328.63 L534.84,329.89 L536.55,331.15 L538.25,332.39 L539.96,333.63 L541.67,334.86 L543.37,336.08 L545.08,337.29 L546.78,338.50 L548.49,339.70 L550.20,340.90 L551.90,342.09 L553.61,343.28 L555.32,344.46 L557.02,345.64 L558.73,346.81 L560.44,347.98 L562.14,349.15 L563.85,350.31 L565.56,351.47 L567.26,352.63 L568.97,353.78 L570.68,354.94 L572.38,356.09 L574.09,357.24 L575.80,358.38 L577.50,359.52 L579.21,360.67 L580.92,361.81 L582.62,362.94 L584.33,364.08 L586.04,365.21 L587.74,366.35 L589.45,367.48 L591.16,368.61 L592.86,369.74 L594.57,370.86 L596.28,371.99 L597.98,373.11 L599.69,374.24 L601.39,375.36 L603.10,376.48 L604.81,377.60 L606.51,378.72 L608.22,379.83 L609.93,380.95 L611.63,382.07 L613.34,383.18 L615.05,384.29 L616.75,385.41 L618.46,386.52 L620.17,387.63 L621.87,388.74 L623.58,389.85 L625.29,390.96 L626.99,392.07 L628.70,393.17 L630.41,394.28 L632.11,395.39 L633.82,396.49 L635.53,397.60 L637.23,398.70 L638.94,399.80 L640.65,400.91 L642.35,402.01 L644.06,403.11 L645.77,404.21 L647.47,405.31 L649.18,406.41 L650.88,407.51 L652.59,408.61 L654.30,409.71 L656.00,410.81 L657.71,411.90 L659.42,413.00 L661.12,414.10 L662.83,415.19 L664.54,416.29 L666.24,417.39 L667.95,418.48 L669.66,419.57 L671.36,420.67 L673.07,421.76 L674.78,422.86 L676.48,423.95 L678.19,425.04 L679.90,426.13 L681.60,427.23 L683.31,428.32 L685.02,429.41 L686.72,430.50 L688.43,431.59 L690.14,432.68 L691.84,433.77 L693.55,434.86 L695.26,435.95 L696.96,437.04 L698.67,438.13 L700.38,439.21 L702.08,440.30 L703.79,441.39 L705.49,442.48 L707.20,443.56 L708.91,444.65 L710.61,445.74 L712.32,446.82 L714.03,447.91 L715.73,449.00 L717.44,450.08 L719.15,451.17 L720.85,452.25 L722.56,453.34 L724.27,454.42 L725.97,455.51 L727.68,456.59" stroke="#ff8000"/>
<path d="M524.60,316.68 L526.32,317.95 L528.04,319.20 L529.76,320.45 L531.48,321.68 L533.20,322.91 L534.92,324.13 L536.64,325.34 L538.36,326.54 L540.08,327.74 L541.80,328.93 L543.52,330.12 L545.24,331.30 L546.96,332.48 L548.68,333.66 L550.40,334.83 L552.12,335.99 L553.84,337.16 L555.56,338.32 L557.27,339.47 L558.99,340.63 L560.71,341.78 L562.43,342.93 L564.15,344.07 L565.87,345.22 L567.59,346.36 L569.31,347.50 L571.03,348.64 L572.75,349.77 L574.47,350.91 L576.19,352.04 L577.91,353.17 L579.63,354.30 L581.35,355.43 L583.07,356.55 L584.79,357.68 L586.51,358.80 L588.23,359.92 L589.95,361.05 L591.67,362.17 L593.39,363.28 L595.11,364.40 L596.83,365.52 L598.55,366.63 L600.27,367.75 L601.99,368.86 L603.71,369.97 L605.43,371.08 L607.15,372.19 L608.87,373.30 L610.59,374.41 L612.31,375.52 L614.03,376.63 L615.75,377.73 L617.47,378.84 L619.19,379.95 L620.91,381.05 L622.63,382.15 L624.34,383.26 L626.06,384.36 L627.78,385.46 L629.50,386.56 L631.22,387.66 L632.94,388.76 L634.66,389.86 L636.38,390.96 L638.10,392.06 L639.82,393.15 L641.54,394.25 L643.26,395.35 L644.98,396.44 L646.70,397.54 L648.42,398.64 L650.14,399.73 L651.86,400.82 L653.58,401.92 L655.30,403.01 L657.02,404.10 L658.74,405.20 L660.46,406.29 L662.18,407.38 L663.90,408.47 L665.62,409.56 L667.34,410.65 L669.06,411.74 L670.78,412.83 L672.50,413.92 L674.22,415.01 L675.94,416.10 L677.66,417.19 L679.38,418.28 L681.10,419.37 L682.82,420.45 L684.54,421.54 L686.26,422.63 L687.98,423.71 L689.70,424.80 L691.41,425.89 L693.13,426.97 L694.85,428.06 L696.57,429.14 L698.29,430.23 L700.01,431.31 L701.73,432.40 L703.45,433.48 L705.17,434.56 L706.89,435.65 L708.61,436.73 L710.33,437.81 L712.05,438.90 L713.77,439.98 L715.49,441.06 L717.21,442.15 L718.93,443.23 L720.65,444.31 L722.37,445.39 L724.09,446.47 L725.81,447.55 L727.53,448.63 L729.25,449.71" stroke="#0000f5"/>
</g>
<g style="font-family:'Liberation Serif',serif" fill="#000">
<text x="40.4" y="253.6" font-size="34.3" letter-spacing="-0.95">0.1</text>
<text x="40.4" y="211.3" font-size="34.3" letter-spacing="-0.95">0.2</text>
<text x="40.4" y="168.9" font-size="34.3" letter-spacing="-0.95">0.3</text>
<text x="40.4" y="126.6" font-size="34.3" letter-spacing="-0.95">0.4</text>
<text x="40.4" y="84.3" font-size="34.3" letter-spacing="-0.95">0.5</text>
<text x="40.4" y="480.4" font-size="34.3" letter-spacing="-0.95">0.1</text>
<text x="40.4" y="437.4" font-size="34.3" letter-spacing="-0.95">0.2</text>
<text x="40.4" y="394.3" font-size="34.3" letter-spacing="-0.95">0.3</text>
<text x="40.4" y="351.3" font-size="34.3" letter-spacing="-0.95">0.4</text>
<text x="40.4" y="309.0" font-size="34.3" letter-spacing="-0.95">0.5</text>
<text x="171.65" y="546.9" font-size="34.3">10<tspan font-size="24.5" dy="-13.2" dx="-0.5">3</tspan></text>
<text x="284.03" y="547.9" font-size="34.3">10<tspan font-size="24.5" dy="-13.2" dx="-0.5">4</tspan></text>
<text x="394.57" y="547.9" font-size="34.3">10<tspan font-size="24.5" dy="-13.2" dx="-0.5">5</tspan></text>
<text x="505.11" y="547.9" font-size="34.3">10<tspan font-size="24.5" dy="-13.2" dx="-0.5">6</tspan></text>
<text x="615.65" y="547.9" font-size="34.3">10<tspan font-size="24.5" dy="-13.2" dx="-0.5">7</tspan></text>
<text x="726.19" y="547.9" font-size="34.3">10<tspan font-size="24.5" dy="-13.2" dx="-0.5">8</tspan></text>
<text transform="translate(70.3,46.95) scale(1.07,1)" font-size="34.3" font-style="italic">P</text>
<text transform="translate(90.3,51.95) scale(1.08,1)" font-size="24.1" font-style="italic">e</text>
<text transform="translate(775.45,523.0) scale(1.04,1)" font-size="34.3" font-style="italic">N</text>
<text x="100.6" y="247.0" font-size="34.3" letter-spacing="-0.8">a)</text>
<text x="99.6" y="478.1" font-size="34.3" letter-spacing="-0.9">b)</text>
<text x="463.2" y="332.5" font-size="20.7" letter-spacing="-0.5">0.01</text>
<text x="462.3" y="368.6" font-size="20.7">10<tspan font-size="14.4" dy="-8.3" dx="0.6">−4</tspan></text>
<text x="462.3" y="403.4" font-size="20.7">10<tspan font-size="14.4" dy="-8.3" dx="0.6">−6</tspan></text>
<text x="462.3" y="438.2" font-size="20.7">10<tspan font-size="14.4" dy="-8.3" dx="0.6">−8</tspan></text>
<text x="511.1" y="482.9" font-size="20.7">10<tspan font-size="14.4" dy="-8.25" dx="0.3">6</tspan></text>
<text x="590.3" y="482.9" font-size="20.7">5×10<tspan font-size="14.4" dy="-8.25" dx="0.3">6</tspan></text>
<text x="713.15" y="482.8" font-size="20.7">10<tspan font-size="14.4" dy="-8.25" dx="0.3">7</tspan></text>
</g>
<g>
<line x1="501.3" y1="104.0" x2="526.9" y2="104.0" stroke="#0000f5" stroke-width="3.6" stroke-linecap="round"/>
<text x="541.4" y="115.5" font-size="24" style="font-family:'Liberation Mono',monospace" fill="#000">x</text>
<text x="556.9" y="116.9" font-size="22" style="font-family:'Liberation Serif',serif" fill="#4a4a4a">=</text>
<text x="570.4" y="115.6" font-size="25" letter-spacing="-0.9" style="font-family:'Liberation Mono',monospace" fill="#000">0.02</text>
<rect x="575.59" y="105.06" width="4.6" height="4.8" fill="#fff"/>
<line x1="574.89" y1="110.66" x2="580.89" y2="103.86" stroke="#000" stroke-width="1.7"/>
<rect x="603.79" y="105.06" width="4.6" height="4.8" fill="#fff"/>
<line x1="603.09" y1="110.66" x2="609.09" y2="103.86" stroke="#000" stroke-width="1.7"/>
<line x1="498.9" y1="149.25" x2="529.0" y2="149.25" stroke="#ff80ff" stroke-width="3.3"/>
<text x="541.4" y="160.8" font-size="24" style="font-family:'Liberation Mono',monospace" fill="#000">x</text>
<text x="556.9" y="162.2" font-size="22" style="font-family:'Liberation Serif',serif" fill="#4a4a4a">=</text>
<text x="570.4" y="160.8" font-size="25" letter-spacing="-0.9" style="font-family:'Liberation Mono',monospace" fill="#000">0.03</text>
<rect x="575.59" y="150.31" width="4.6" height="4.8" fill="#fff"/>
<line x1="574.89" y1="155.91" x2="580.89" y2="149.11" stroke="#000" stroke-width="1.7"/>
<rect x="603.79" y="150.31" width="4.6" height="4.8" fill="#fff"/>
<line x1="603.09" y1="155.91" x2="609.09" y2="149.11" stroke="#000" stroke-width="1.7"/>
<line x1="499.6" y1="194.9" x2="528.6" y2="194.9" stroke="#00ff00" stroke-width="3.0"/>
<text x="541.4" y="206.4" font-size="24" style="font-family:'Liberation Mono',monospace" fill="#000">x</text>
<text x="556.9" y="207.8" font-size="22" style="font-family:'Liberation Serif',serif" fill="#4a4a4a">=</text>
<text x="570.4" y="206.5" font-size="25" letter-spacing="-0.9" style="font-family:'Liberation Mono',monospace" fill="#000">0.05</text>
<rect x="575.59" y="195.96" width="4.6" height="4.8" fill="#fff"/>
<line x1="574.89" y1="201.56" x2="580.89" y2="194.76" stroke="#000" stroke-width="1.7"/>
<rect x="603.79" y="195.96" width="4.6" height="4.8" fill="#fff"/>
<line x1="603.09" y1="201.56" x2="609.09" y2="194.76" stroke="#000" stroke-width="1.7"/>
<line x1="499.6" y1="240.4" x2="528.6" y2="240.4" stroke="#ff8000" stroke-width="3.0"/>
<text x="541.4" y="251.9" font-size="24" style="font-family:'Liberation Mono',monospace" fill="#000">x</text>
<text x="556.9" y="253.3" font-size="22" style="font-family:'Liberation Serif',serif" fill="#4a4a4a">=</text>
<text x="570.4" y="252.0" font-size="25" letter-spacing="-0.9" style="font-family:'Liberation Mono',monospace" fill="#000">0.10</text>
<rect x="575.59" y="241.46" width="4.6" height="4.8" fill="#fff"/>
<line x1="574.89" y1="247.06" x2="580.89" y2="240.26" stroke="#000" stroke-width="1.7"/>
<rect x="617.89" y="241.46" width="4.6" height="4.8" fill="#fff"/>
<line x1="617.19" y1="247.06" x2="623.19" y2="240.26" stroke="#000" stroke-width="1.7"/>
</g>
</svg>
</body></html>
